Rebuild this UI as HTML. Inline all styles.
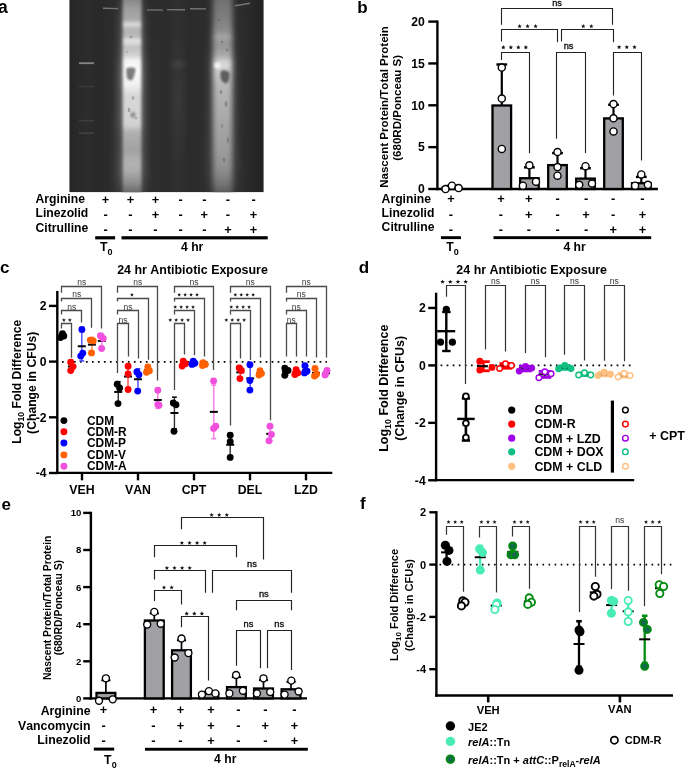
<!DOCTYPE html>
<html><head><meta charset="utf-8"><title>Figure</title>
<style>
html,body{margin:0;padding:0;background:#fff;}
body{width:685px;height:769px;overflow:hidden;}
svg{display:block;will-change:transform;font-family:"Liberation Sans", sans-serif;font-kerning:none;}
</style></head><body>
<svg width="685" height="769" viewBox="0 0 685 769">
<defs>
<clipPath id="gelclip"><rect x="69.4" y="0" width="194.2" height="192.2"/></clipPath>
<filter id="blur05" x="-20%" y="-200%" width="140%" height="500%"><feGaussianBlur stdDeviation="0.5"/></filter>
<filter id="blur08" x="-50%" y="-50%" width="200%" height="200%"><feGaussianBlur stdDeviation="0.8"/></filter>
<filter id="blur1" x="-50%" y="-50%" width="200%" height="200%"><feGaussianBlur stdDeviation="1"/></filter>
<filter id="blur2" x="-50%" y="-10%" width="200%" height="120%"><feGaussianBlur stdDeviation="1.8"/></filter>
<filter id="blur5" x="-100%" y="-20%" width="300%" height="140%"><feGaussianBlur stdDeviation="5"/></filter>
<filter id="blur4" x="-100%" y="-50%" width="300%" height="200%"><feGaussianBlur stdDeviation="4"/></filter>
<filter id="blur25" x="-50%" y="-10%" width="200%" height="120%"><feGaussianBlur stdDeviation="2.4"/></filter>
<filter id="blur3" x="-50%" y="-50%" width="200%" height="200%"><feGaussianBlur stdDeviation="3"/></filter>
<linearGradient id="gelbg" gradientUnits="userSpaceOnUse" x1="69.4" y1="0" x2="263.6" y2="0"><stop offset="0.0000" stop-color="#2a2a2a"/><stop offset="0.0082" stop-color="#262626"/><stop offset="0.0340" stop-color="#292929"/><stop offset="0.0906" stop-color="#2c2c2c"/><stop offset="0.1473" stop-color="#292929"/><stop offset="0.2091" stop-color="#2c2c2c"/><stop offset="0.2606" stop-color="#2a2a2a"/><stop offset="0.3893" stop-color="#2a2a2a"/><stop offset="0.4459" stop-color="#2d2d2d"/><stop offset="0.4974" stop-color="#2b2b2b"/><stop offset="0.5592" stop-color="#303030"/><stop offset="0.6159" stop-color="#2b2b2b"/><stop offset="0.6674" stop-color="#2d2d2d"/><stop offset="0.7240" stop-color="#2a2a2a"/><stop offset="0.8527" stop-color="#2a2a2a"/><stop offset="0.8939" stop-color="#2c2c2c"/><stop offset="0.9403" stop-color="#282828"/><stop offset="1.0000" stop-color="#222222"/></linearGradient><radialGradient id="l4glow" cx="0.5" cy="0.5" r="0.5"><stop offset="0" stop-color="#3a3a3a" stop-opacity="0.9"/><stop offset="0.6" stop-color="#353535" stop-opacity="0.5"/><stop offset="1" stop-color="#303030" stop-opacity="0"/></radialGradient><radialGradient id="l4spot" cx="0.5" cy="0.5" r="0.5"><stop offset="0" stop-color="#454545" stop-opacity="0.9"/><stop offset="1" stop-color="#3a3a3a" stop-opacity="0"/></radialGradient>
<linearGradient id="lane2" x1="0" y1="0" x2="0" y2="1"><stop offset="0.0000" stop-color="#7a7a7a"/><stop offset="0.0200" stop-color="#888888"/><stop offset="0.0700" stop-color="#a0a0a0"/><stop offset="0.1200" stop-color="#a8a8a8"/><stop offset="0.1350" stop-color="#d0d0d0"/><stop offset="0.1450" stop-color="#e0e0e0"/><stop offset="0.1600" stop-color="#b4b4b4"/><stop offset="0.2050" stop-color="#b8b8b8"/><stop offset="0.2200" stop-color="#e4e4e4"/><stop offset="0.2350" stop-color="#dcdcdc"/><stop offset="0.2550" stop-color="#c0c0c0"/><stop offset="0.2950" stop-color="#cfcfcf"/><stop offset="0.3250" stop-color="#f6f6f6"/><stop offset="0.3800" stop-color="#fafafa"/><stop offset="0.4450" stop-color="#f0f0f0"/><stop offset="0.4950" stop-color="#d8d8d8"/><stop offset="0.6450" stop-color="#d2d2d2"/><stop offset="0.6800" stop-color="#b0b0b0"/><stop offset="0.7700" stop-color="#a2a2a2"/><stop offset="0.8350" stop-color="#b2b2b2"/><stop offset="0.8800" stop-color="#aaaaaa"/><stop offset="0.9400" stop-color="#8a8a8a"/><stop offset="0.9800" stop-color="#6a6a6a"/><stop offset="1.0000" stop-color="#5a5a5a"/></linearGradient>
<linearGradient id="lane6" x1="0" y1="0" x2="0" y2="1"><stop offset="0.0000" stop-color="#6a6a6a"/><stop offset="0.0200" stop-color="#707070"/><stop offset="0.1200" stop-color="#808080"/><stop offset="0.1850" stop-color="#8e8e8e"/><stop offset="0.2050" stop-color="#b2b2b2"/><stop offset="0.2250" stop-color="#929292"/><stop offset="0.2700" stop-color="#9c9c9c"/><stop offset="0.3100" stop-color="#b2b2b2"/><stop offset="0.3350" stop-color="#e2e2e2"/><stop offset="0.3600" stop-color="#d2d2d2"/><stop offset="0.4450" stop-color="#b8b8b8"/><stop offset="0.6200" stop-color="#a8a8a8"/><stop offset="0.7700" stop-color="#9c9c9c"/><stop offset="0.8700" stop-color="#8e8e8e"/><stop offset="0.9400" stop-color="#747474"/><stop offset="0.9800" stop-color="#5c5c5c"/><stop offset="1.0000" stop-color="#555555"/></linearGradient>
</defs>
<text x="-2" y="13.4" font-size="17.5" text-anchor="start" font-weight="bold" fill="#000">a</text>
<g clip-path="url(#gelclip)">
<rect x="69.4" y="0" width="194.2" height="192.2" fill="#2a2a2a" stroke="none" stroke-width="0"/>
<rect x="69.4" y="0" width="194.2" height="192.2" fill="url(#gelbg)" stroke="none" stroke-width="0"/>
<ellipse cx="178" cy="100" rx="12" ry="80" fill="url(#l4glow)"/>
<ellipse cx="178" cy="64" rx="11" ry="7" fill="url(#l4spot)"/>
<path d="M121 -4 L143 -4 L146 196 L117 196 Z" fill="url(#lane2)" opacity="0.4" filter="url(#blur5)"/>
<path d="M212 -4 L233 -4 L237 196 L208 196 Z" fill="url(#lane6)" opacity="0.35" filter="url(#blur5)"/>
<rect x="122.8" y="-4" width="18.6" height="200" fill="url(#lane2)" stroke="none" stroke-width="0" filter="url(#blur2)"/>
<rect x="213.4" y="-4" width="18.6" height="200" fill="url(#lane6)" stroke="none" stroke-width="0" filter="url(#blur25)"/>
<path d="M126.5 68.5 C129 67 133 67.5 135.5 68.5 C135.5 72 134 76 132.5 80 C130 80.5 128 80 127 78 C126.5 75 126 71 126.5 68.5Z" fill="#7c7c7c" filter="url(#blur08)"/>
<ellipse cx="133" cy="115" rx="2.5" ry="3" fill="#939393" filter="url(#blur08)"/>
<ellipse cx="217.5" cy="65.5" rx="3" ry="3" fill="#f4f4f4" filter="url(#blur1)"/>
<path d="M221 71 C224 69.5 228 70.5 229.5 73 C230 77 229 81 227 83 C224.5 84 222 82 221 79 C220 76 220 73 221 71Z" fill="#5e5e5e" filter="url(#blur08)"/>
<ellipse cx="131" cy="37" rx="1.5" ry="1.2" fill="#999" filter="url(#blur05)"/>
<ellipse cx="127" cy="52" rx="1.2" ry="1" fill="#aaa" filter="url(#blur05)"/>
<ellipse cx="133" cy="98" rx="1.5" ry="2" fill="#aaa" filter="url(#blur05)"/>
<ellipse cx="129" cy="110" rx="1.3" ry="2.2" fill="#a0a0a0" filter="url(#blur05)"/>
<ellipse cx="136" cy="118" rx="1.2" ry="1.5" fill="#aaa" filter="url(#blur05)"/>
<ellipse cx="219" cy="20" rx="1.2" ry="1" fill="#666" filter="url(#blur05)"/>
<ellipse cx="222" cy="42" rx="1.3" ry="1" fill="#777" filter="url(#blur05)"/>
<ellipse cx="227" cy="50" rx="1" ry="1.2" fill="#7a7a7a" filter="url(#blur05)"/>
<ellipse cx="221" cy="92" rx="1.3" ry="2" fill="#8a8a8a" filter="url(#blur05)"/>
<ellipse cx="226" cy="104" rx="1.5" ry="3" fill="#8a8a8a" filter="url(#blur05)"/>
<ellipse cx="222" cy="126" rx="1.2" ry="2" fill="#8a8a8a" filter="url(#blur05)"/>
<ellipse cx="228" cy="140" rx="1.3" ry="3" fill="#808080" filter="url(#blur05)"/>
<ellipse cx="224" cy="160" rx="1.2" ry="2" fill="#777" filter="url(#blur05)"/>
<path d="M103 7.6000000000000005L118 7.8999999999999995L118 9.299999999999999L103 9.0Z" fill="#767676" filter="url(#blur05)"/>
<path d="M147 9.200000000000001L163 9.4L163 10.799999999999999L147 10.6Z" fill="#767676" filter="url(#blur05)"/>
<path d="M167 8.9L185 9.100000000000001L185 10.5L167 10.299999999999999Z" fill="#767676" filter="url(#blur05)"/>
<path d="M190 7.999999999999999L206 8.200000000000001L206 9.6L190 9.399999999999999Z" fill="#767676" filter="url(#blur05)"/>
<path d="M235 5.1L250 2.5999999999999996L250 4.0L235 6.5Z" fill="#767676" filter="url(#blur05)"/>
<rect x="79" y="62.3" width="15" height="1.8" fill="#858585" stroke="none" stroke-width="0" filter="url(#blur05)"/>
<rect x="79" y="85.8" width="15" height="1.4" fill="#3a3a3a" stroke="none" stroke-width="0" filter="url(#blur05)"/>
<rect x="79" y="119.8" width="15" height="1.6" fill="#3c3c3c" stroke="none" stroke-width="0" filter="url(#blur05)"/>
<rect x="79" y="132.3" width="15" height="1.8" fill="#404040" stroke="none" stroke-width="0" filter="url(#blur05)"/>
</g>
<text x="35.5" y="203.3" font-size="12.2" text-anchor="start" font-weight="bold" fill="#000">Arginine</text>
<text x="35.5" y="217.3" font-size="12.2" text-anchor="start" font-weight="bold" fill="#000">Linezolid</text>
<text x="35.5" y="231.7" font-size="12.2" text-anchor="start" font-weight="bold" fill="#000">Citrulline</text>
<text x="105.6" y="203.7" font-size="12.8" text-anchor="middle" font-weight="bold" fill="#000">+</text>
<text x="130.5" y="203.7" font-size="12.8" text-anchor="middle" font-weight="bold" fill="#000">+</text>
<text x="155.4" y="203.7" font-size="12.8" text-anchor="middle" font-weight="bold" fill="#000">+</text>
<text x="180.6" y="203.7" font-size="12.8" text-anchor="middle" font-weight="bold" fill="#000">-</text>
<text x="204.3" y="203.7" font-size="12.8" text-anchor="middle" font-weight="bold" fill="#000">-</text>
<text x="228" y="203.7" font-size="12.8" text-anchor="middle" font-weight="bold" fill="#000">-</text>
<text x="253.6" y="203.7" font-size="12.8" text-anchor="middle" font-weight="bold" fill="#000">-</text>
<text x="105.6" y="218.6" font-size="12.8" text-anchor="middle" font-weight="bold" fill="#000">-</text>
<text x="130.5" y="218.6" font-size="12.8" text-anchor="middle" font-weight="bold" fill="#000">-</text>
<text x="155.4" y="218.6" font-size="12.8" text-anchor="middle" font-weight="bold" fill="#000">+</text>
<text x="180.6" y="218.6" font-size="12.8" text-anchor="middle" font-weight="bold" fill="#000">-</text>
<text x="204.3" y="218.6" font-size="12.8" text-anchor="middle" font-weight="bold" fill="#000">+</text>
<text x="228" y="218.6" font-size="12.8" text-anchor="middle" font-weight="bold" fill="#000">-</text>
<text x="253.6" y="218.6" font-size="12.8" text-anchor="middle" font-weight="bold" fill="#000">+</text>
<text x="105.6" y="234.1" font-size="12.8" text-anchor="middle" font-weight="bold" fill="#000">-</text>
<text x="130.5" y="234.1" font-size="12.8" text-anchor="middle" font-weight="bold" fill="#000">-</text>
<text x="155.4" y="234.1" font-size="12.8" text-anchor="middle" font-weight="bold" fill="#000">-</text>
<text x="180.6" y="234.1" font-size="12.8" text-anchor="middle" font-weight="bold" fill="#000">-</text>
<text x="204.3" y="234.1" font-size="12.8" text-anchor="middle" font-weight="bold" fill="#000">-</text>
<text x="228" y="234.1" font-size="12.8" text-anchor="middle" font-weight="bold" fill="#000">+</text>
<text x="253.6" y="234.1" font-size="12.8" text-anchor="middle" font-weight="bold" fill="#000">+</text>
<rect x="95.2" y="236.2" width="19.9" height="3.2" fill="#000" stroke="none" stroke-width="0"/>
<rect x="121.5" y="236.2" width="146.2" height="3.2" fill="#000" stroke="none" stroke-width="0"/>
<text x="100" y="251" font-size="12.2" text-anchor="start" font-weight="bold" fill="#000">T</text>
<text x="107.5" y="255" font-size="9" text-anchor="start" font-weight="bold" fill="#000">0</text>
<text x="192.2" y="251.2" font-size="12.2" text-anchor="middle" font-weight="bold" fill="#000">4 hr</text>
<text x="357.3" y="13.4" font-size="17" text-anchor="start" font-weight="bold" fill="#000">b</text>
<line x1="437.4" y1="20.5" x2="437.4" y2="190.2" stroke="#000" stroke-width="2.4"/>
<line x1="436.2" y1="189" x2="657.9" y2="189" stroke="#000" stroke-width="2.4"/>
<line x1="428.3" y1="189" x2="437.4" y2="189" stroke="#000" stroke-width="2.4"/>
<text x="424.8" y="193.3" font-size="12.2" text-anchor="end" font-weight="bold" fill="#000">0</text>
<line x1="428.3" y1="147.15" x2="437.4" y2="147.15" stroke="#000" stroke-width="2.4"/>
<text x="424.8" y="151.45" font-size="12.2" text-anchor="end" font-weight="bold" fill="#000">5</text>
<line x1="428.3" y1="105.3" x2="437.4" y2="105.3" stroke="#000" stroke-width="2.4"/>
<text x="424.8" y="109.6" font-size="12.2" text-anchor="end" font-weight="bold" fill="#000">10</text>
<line x1="428.3" y1="63.45" x2="437.4" y2="63.45" stroke="#000" stroke-width="2.4"/>
<text x="424.8" y="67.75" font-size="12.2" text-anchor="end" font-weight="bold" fill="#000">15</text>
<line x1="428.3" y1="21.6" x2="437.4" y2="21.6" stroke="#000" stroke-width="2.4"/>
<text x="424.8" y="25.9" font-size="12.2" text-anchor="end" font-weight="bold" fill="#000">20</text>
<text transform="translate(388.4,107) rotate(-90)" font-size="11.55" font-weight="bold" text-anchor="middle">Nascent Protein/Total Protein</text>
<text transform="translate(401.2,107.8) rotate(-90)" font-size="11.55" font-weight="bold" text-anchor="middle">(680RD/Ponceau S)</text>
<line x1="452" y1="187.6" x2="452" y2="185.85" stroke="#000" stroke-width="2.2"/>
<line x1="446.6" y1="185.85" x2="457.4" y2="185.85" stroke="#000" stroke-width="2.4"/>
<line x1="501.8" y1="105.5" x2="501.8" y2="64.47" stroke="#000" stroke-width="2.2"/>
<line x1="496.4" y1="64.47" x2="507.2" y2="64.47" stroke="#000" stroke-width="2.4"/>
<line x1="529.4" y1="178.2" x2="529.4" y2="167.39" stroke="#000" stroke-width="2.2"/>
<line x1="524" y1="167.39" x2="534.8" y2="167.39" stroke="#000" stroke-width="2.4"/>
<line x1="557.5" y1="165.1" x2="557.5" y2="153.1" stroke="#000" stroke-width="2.2"/>
<line x1="552.1" y1="153.1" x2="562.9" y2="153.1" stroke="#000" stroke-width="2.4"/>
<line x1="585.5" y1="178.6" x2="585.5" y2="168.22" stroke="#000" stroke-width="2.2"/>
<line x1="580.1" y1="168.22" x2="590.9" y2="168.22" stroke="#000" stroke-width="2.4"/>
<line x1="613.5" y1="118.4" x2="613.5" y2="104.75" stroke="#000" stroke-width="2.2"/>
<line x1="608.1" y1="104.75" x2="618.9" y2="104.75" stroke="#000" stroke-width="2.4"/>
<line x1="641.3" y1="183.2" x2="641.3" y2="176.92" stroke="#000" stroke-width="2.2"/>
<line x1="635.9" y1="176.92" x2="646.7" y2="176.92" stroke="#000" stroke-width="2.4"/>
<rect x="442.7" y="187.6" width="18.6" height="1.4" fill="#a1a0a5" stroke="#000" stroke-width="2.3"/>
<rect x="492.5" y="105.5" width="18.6" height="83.5" fill="#a1a0a5" stroke="#000" stroke-width="2.3"/>
<rect x="520.1" y="178.2" width="18.6" height="10.8" fill="#a1a0a5" stroke="#000" stroke-width="2.3"/>
<rect x="548.2" y="165.1" width="18.6" height="23.9" fill="#a1a0a5" stroke="#000" stroke-width="2.3"/>
<rect x="576.2" y="178.6" width="18.6" height="10.4" fill="#a1a0a5" stroke="#000" stroke-width="2.3"/>
<rect x="604.2" y="118.4" width="18.6" height="70.6" fill="#a1a0a5" stroke="#000" stroke-width="2.3"/>
<rect x="632" y="183.2" width="18.6" height="5.8" fill="#a1a0a5" stroke="#000" stroke-width="2.3"/>
<circle cx="445.5" cy="189.1" r="3.55" fill="#fff" stroke="#000" stroke-width="1.4"/>
<circle cx="451.9" cy="185.7" r="3.55" fill="#fff" stroke="#000" stroke-width="1.4"/>
<circle cx="458.6" cy="188.1" r="3.55" fill="#fff" stroke="#000" stroke-width="1.4"/>
<circle cx="501.8" cy="67.6" r="3.55" fill="#fff" stroke="#000" stroke-width="1.4"/>
<circle cx="501.8" cy="98.6" r="3.55" fill="#fff" stroke="#000" stroke-width="1.4"/>
<circle cx="501.8" cy="148.9" r="3.55" fill="#fff" stroke="#000" stroke-width="1.4"/>
<circle cx="529.4" cy="165.3" r="3.55" fill="#fff" stroke="#000" stroke-width="1.4"/>
<circle cx="522.9" cy="185.7" r="3.55" fill="#fff" stroke="#000" stroke-width="1.4"/>
<circle cx="536" cy="181.7" r="3.55" fill="#fff" stroke="#000" stroke-width="1.4"/>
<circle cx="557.5" cy="152" r="3.55" fill="#fff" stroke="#000" stroke-width="1.4"/>
<circle cx="557.5" cy="167.1" r="3.55" fill="#fff" stroke="#000" stroke-width="1.4"/>
<circle cx="557.5" cy="175.7" r="3.55" fill="#fff" stroke="#000" stroke-width="1.4"/>
<circle cx="585.5" cy="166.2" r="3.55" fill="#fff" stroke="#000" stroke-width="1.4"/>
<circle cx="579.2" cy="184.8" r="3.55" fill="#fff" stroke="#000" stroke-width="1.4"/>
<circle cx="592" cy="183.5" r="3.55" fill="#fff" stroke="#000" stroke-width="1.4"/>
<circle cx="613.5" cy="104.1" r="3.55" fill="#fff" stroke="#000" stroke-width="1.4"/>
<circle cx="613.5" cy="118.3" r="3.55" fill="#fff" stroke="#000" stroke-width="1.4"/>
<circle cx="613.5" cy="131.4" r="3.55" fill="#fff" stroke="#000" stroke-width="1.4"/>
<circle cx="641.3" cy="174.4" r="3.55" fill="#fff" stroke="#000" stroke-width="1.4"/>
<circle cx="635.1" cy="185.7" r="3.55" fill="#fff" stroke="#000" stroke-width="1.4"/>
<circle cx="647.9" cy="184.8" r="3.55" fill="#fff" stroke="#000" stroke-width="1.4"/>
<path d="M501.5 24.8V8.5H612.5V24.8" fill="none" stroke="#222" stroke-width="1.1" stroke-linejoin="miter" stroke-linecap="butt"/>
<text x="557" y="6.3" font-size="9.2" text-anchor="middle" font-weight="normal" fill="#111" stroke="#111" stroke-width="0.35">ns</text>
<path d="M501.5 41.6V29.5H557.5V42.3" fill="none" stroke="#222" stroke-width="1.1" stroke-linejoin="miter" stroke-linecap="butt"/>
<polygon points="519.6,24 520.21,25.46 521.79,25.59 520.58,26.62 520.95,28.16 519.6,27.34 518.25,28.16 518.62,26.62 517.41,25.59 518.99,25.46" fill="#111"/>
<polygon points="527.6,24 528.21,25.46 529.79,25.59 528.58,26.62 528.95,28.16 527.6,27.34 526.25,28.16 526.62,26.62 525.41,25.59 526.99,25.46" fill="#111"/>
<polygon points="535.6,24 536.21,25.46 537.79,25.59 536.58,26.62 536.95,28.16 535.6,27.34 534.25,28.16 534.62,26.62 533.41,25.59 534.99,25.46" fill="#111"/>
<path d="M561.5 41.6V29.5H613.5V42.3" fill="none" stroke="#222" stroke-width="1.1" stroke-linejoin="miter" stroke-linecap="butt"/>
<polygon points="583.3,24 583.91,25.46 585.49,25.59 584.28,26.62 584.65,28.16 583.3,27.34 581.95,28.16 582.32,26.62 581.11,25.59 582.69,25.46" fill="#111"/>
<polygon points="591.3,24 591.91,25.46 593.49,25.59 592.28,26.62 592.65,28.16 591.3,27.34 589.95,28.16 590.32,26.62 589.11,25.59 590.69,25.46" fill="#111"/>
<path d="M501.5 59.9V52.5H529.5V153.3" fill="none" stroke="#222" stroke-width="1.1" stroke-linejoin="miter" stroke-linecap="butt"/>
<polygon points="503.35,45.1 503.96,46.56 505.54,46.69 504.33,47.72 504.7,49.26 503.35,48.43 502,49.26 502.37,47.72 501.16,46.69 502.74,46.56" fill="#111"/>
<polygon points="510.85,45.1 511.46,46.56 513.04,46.69 511.83,47.72 512.2,49.26 510.85,48.43 509.5,49.26 509.87,47.72 508.66,46.69 510.24,46.56" fill="#111"/>
<polygon points="518.35,45.1 518.96,46.56 520.54,46.69 519.33,47.72 519.7,49.26 518.35,48.43 517,49.26 517.37,47.72 516.16,46.69 517.74,46.56" fill="#111"/>
<polygon points="525.85,45.1 526.46,46.56 528.04,46.69 526.83,47.72 527.2,49.26 525.85,48.43 524.5,49.26 524.87,47.72 523.66,46.69 525.24,46.56" fill="#111"/>
<path d="M556.5 138.7V52.5H585.5V152.9" fill="none" stroke="#222" stroke-width="1.1" stroke-linejoin="miter" stroke-linecap="butt"/>
<text x="568.6" y="49" font-size="9.2" text-anchor="middle" font-weight="normal" fill="#111" stroke="#111" stroke-width="0.35">ns</text>
<path d="M613.5 95.5V52.5H641.5V160.5" fill="none" stroke="#222" stroke-width="1.1" stroke-linejoin="miter" stroke-linecap="butt"/>
<polygon points="619.1,44.9 619.71,46.36 621.29,46.49 620.08,47.52 620.45,49.06 619.1,48.23 617.75,49.06 618.12,47.52 616.91,46.49 618.49,46.36" fill="#111"/>
<polygon points="626.8,44.9 627.41,46.36 628.99,46.49 627.78,47.52 628.15,49.06 626.8,48.23 625.45,49.06 625.82,47.52 624.61,46.49 626.19,46.36" fill="#111"/>
<polygon points="634.5,44.9 635.11,46.36 636.69,46.49 635.48,47.52 635.85,49.06 634.5,48.23 633.15,49.06 633.52,47.52 632.31,46.49 633.89,46.36" fill="#111"/>
<text x="381.6" y="202.8" font-size="12.2" text-anchor="start" font-weight="bold" fill="#000">Arginine</text>
<text x="381.6" y="216.9" font-size="12.2" text-anchor="start" font-weight="bold" fill="#000">Linezolid</text>
<text x="381.6" y="231.3" font-size="12.2" text-anchor="start" font-weight="bold" fill="#000">Citrulline</text>
<text x="451" y="203.3" font-size="12.8" text-anchor="middle" font-weight="bold" fill="#000">+</text>
<text x="501" y="203.3" font-size="12.8" text-anchor="middle" font-weight="bold" fill="#000">+</text>
<text x="528.8" y="203.3" font-size="12.8" text-anchor="middle" font-weight="bold" fill="#000">+</text>
<text x="557.7" y="203.3" font-size="12.8" text-anchor="middle" font-weight="bold" fill="#000">-</text>
<text x="586.1" y="203.3" font-size="12.8" text-anchor="middle" font-weight="bold" fill="#000">-</text>
<text x="613.2" y="203.3" font-size="12.8" text-anchor="middle" font-weight="bold" fill="#000">-</text>
<text x="642.4" y="203.3" font-size="12.8" text-anchor="middle" font-weight="bold" fill="#000">-</text>
<text x="451" y="218.8" font-size="12.8" text-anchor="middle" font-weight="bold" fill="#000">-</text>
<text x="501" y="218.8" font-size="12.8" text-anchor="middle" font-weight="bold" fill="#000">-</text>
<text x="528.8" y="218.8" font-size="12.8" text-anchor="middle" font-weight="bold" fill="#000">+</text>
<text x="557.7" y="218.8" font-size="12.8" text-anchor="middle" font-weight="bold" fill="#000">-</text>
<text x="586.1" y="218.8" font-size="12.8" text-anchor="middle" font-weight="bold" fill="#000">+</text>
<text x="613.2" y="218.8" font-size="12.8" text-anchor="middle" font-weight="bold" fill="#000">-</text>
<text x="642.4" y="218.8" font-size="12.8" text-anchor="middle" font-weight="bold" fill="#000">+</text>
<text x="451" y="233.7" font-size="12.8" text-anchor="middle" font-weight="bold" fill="#000">-</text>
<text x="501" y="233.7" font-size="12.8" text-anchor="middle" font-weight="bold" fill="#000">-</text>
<text x="528.8" y="233.7" font-size="12.8" text-anchor="middle" font-weight="bold" fill="#000">-</text>
<text x="557.7" y="233.7" font-size="12.8" text-anchor="middle" font-weight="bold" fill="#000">-</text>
<text x="586.1" y="233.7" font-size="12.8" text-anchor="middle" font-weight="bold" fill="#000">-</text>
<text x="613.2" y="233.7" font-size="12.8" text-anchor="middle" font-weight="bold" fill="#000">+</text>
<text x="642.4" y="233.7" font-size="12.8" text-anchor="middle" font-weight="bold" fill="#000">+</text>
<rect x="441" y="236.2" width="20" height="2.9" fill="#000" stroke="none" stroke-width="0"/>
<rect x="493.5" y="236.2" width="157.7" height="2.9" fill="#000" stroke="none" stroke-width="0"/>
<text x="446.2" y="251" font-size="12.2" text-anchor="start" font-weight="bold" fill="#000">T</text>
<text x="453.7" y="255" font-size="9" text-anchor="start" font-weight="bold" fill="#000">0</text>
<text x="574.6" y="250.5" font-size="12.2" text-anchor="middle" font-weight="bold" fill="#000">4 hr</text>
<text x="0" y="272.5" font-size="17" text-anchor="start" font-weight="bold" fill="#000">c</text>
<line x1="57.3" y1="290.9" x2="57.3" y2="474.1" stroke="#000" stroke-width="2.4"/>
<line x1="56.1" y1="472.9" x2="332.3" y2="472.9" stroke="#000" stroke-width="2.4"/>
<line x1="49" y1="305.9" x2="57.3" y2="305.9" stroke="#000" stroke-width="2.4"/>
<text x="46.6" y="310.2" font-size="12.2" text-anchor="end" font-weight="bold" fill="#000">2</text>
<line x1="49" y1="361.6" x2="57.3" y2="361.6" stroke="#000" stroke-width="2.4"/>
<text x="46.6" y="365.9" font-size="12.2" text-anchor="end" font-weight="bold" fill="#000">0</text>
<line x1="49" y1="417.3" x2="57.3" y2="417.3" stroke="#000" stroke-width="2.4"/>
<text x="46.6" y="421.6" font-size="12.2" text-anchor="end" font-weight="bold" fill="#000">-2</text>
<line x1="49" y1="473" x2="57.3" y2="473" stroke="#000" stroke-width="2.4"/>
<text x="46.6" y="477.3" font-size="12.2" text-anchor="end" font-weight="bold" fill="#000">-4</text>
<text transform="translate(20.9,443.8) rotate(-90)" font-size="12.2" font-weight="bold">Log<tspan font-size="8.6" dy="3">10</tspan><tspan dy="-3"> Fold Difference</tspan></text>
<text transform="translate(36.2,382.8) rotate(-90)" font-size="12.2" font-weight="bold" text-anchor="middle">(Change in CFUs)</text>
<text x="192.5" y="274.3" font-size="12.45" text-anchor="middle" font-weight="bold" fill="#000">24 hr Antibiotic Exposure</text>
<line x1="62" y1="361.8" x2="327" y2="361.8" stroke="#000" stroke-width="1.7" stroke-dasharray="1.7 4.29"/>
<line x1="82" y1="472.9" x2="82" y2="480.3" stroke="#000" stroke-width="2.4"/>
<text x="82" y="494.3" font-size="12.3" text-anchor="middle" font-weight="bold" fill="#000">VEH</text>
<line x1="138" y1="472.9" x2="138" y2="480.3" stroke="#000" stroke-width="2.4"/>
<text x="138" y="494.3" font-size="12.3" text-anchor="middle" font-weight="bold" fill="#000">VAN</text>
<line x1="194" y1="472.9" x2="194" y2="480.3" stroke="#000" stroke-width="2.4"/>
<text x="194" y="494.3" font-size="12.3" text-anchor="middle" font-weight="bold" fill="#000">CPT</text>
<line x1="250" y1="472.9" x2="250" y2="480.3" stroke="#000" stroke-width="2.4"/>
<text x="250" y="494.3" font-size="12.3" text-anchor="middle" font-weight="bold" fill="#000">DEL</text>
<line x1="306" y1="472.9" x2="306" y2="480.3" stroke="#000" stroke-width="2.4"/>
<text x="306" y="494.3" font-size="12.3" text-anchor="middle" font-weight="bold" fill="#000">LZD</text>
<path d="M61.5 328.4V323.5H71.5V357.7" fill="none" stroke="#4a4a4a" stroke-width="1.3" stroke-linejoin="miter" stroke-linecap="butt"/>
<polygon points="63.87,318.1 64.4,319.37 65.78,319.48 64.73,320.38 65.05,321.72 63.87,321 62.7,321.72 63.02,320.38 61.97,319.48 63.35,319.37" fill="#222"/>
<polygon points="69.82,318.1 70.35,319.37 71.73,319.48 70.68,320.38 71,321.72 69.82,321 68.65,321.72 68.97,320.38 67.92,319.48 69.3,319.37" fill="#222"/>
<path d="M61.5 314.6V310.5H81.5V322.4" fill="none" stroke="#4a4a4a" stroke-width="1.3" stroke-linejoin="miter" stroke-linecap="butt"/>
<text x="71.8" y="309.5" font-size="8.5" text-anchor="middle" font-weight="normal" fill="#3a3a3a">ns</text>
<path d="M61.5 301.6V298.5H91.5V327.7" fill="none" stroke="#4a4a4a" stroke-width="1.3" stroke-linejoin="miter" stroke-linecap="butt"/>
<text x="76.85" y="297.2" font-size="8.5" text-anchor="middle" font-weight="normal" fill="#3a3a3a">ns</text>
<path d="M61.5 292.7V286.5H101.5V328.6" fill="none" stroke="#4a4a4a" stroke-width="1.3" stroke-linejoin="miter" stroke-linecap="butt"/>
<text x="81.85" y="285" font-size="8.5" text-anchor="middle" font-weight="normal" fill="#3a3a3a">ns</text>
<path d="M117.5 373V323.5H128.5V356.6" fill="none" stroke="#4a4a4a" stroke-width="1.3" stroke-linejoin="miter" stroke-linecap="butt"/>
<text x="122.95" y="322.5" font-size="8.5" text-anchor="middle" font-weight="normal" fill="#3a3a3a">ns</text>
<path d="M117.5 314.6V310.5H138.5V358.4" fill="none" stroke="#4a4a4a" stroke-width="1.3" stroke-linejoin="miter" stroke-linecap="butt"/>
<text x="127.95" y="309.5" font-size="8.5" text-anchor="middle" font-weight="normal" fill="#3a3a3a">ns</text>
<path d="M117.5 301.6V298.5H148.5V359.8" fill="none" stroke="#4a4a4a" stroke-width="1.3" stroke-linejoin="miter" stroke-linecap="butt"/>
<polygon points="131.95,292.8 132.48,294.07 133.85,294.18 132.81,295.08 133.13,296.42 131.95,295.7 130.77,296.42 131.09,295.08 130.05,294.18 131.42,294.07" fill="#222"/>
<path d="M117.5 292.7V286.5H157.5V380.6" fill="none" stroke="#4a4a4a" stroke-width="1.3" stroke-linejoin="miter" stroke-linecap="butt"/>
<text x="137.85" y="285" font-size="8.5" text-anchor="middle" font-weight="normal" fill="#3a3a3a">ns</text>
<path d="M174.5 390.1V323.5H184.5V354.5" fill="none" stroke="#4a4a4a" stroke-width="1.3" stroke-linejoin="miter" stroke-linecap="butt"/>
<polygon points="170.22,318.1 170.75,319.37 172.13,319.48 171.08,320.38 171.4,321.72 170.22,321 169.05,321.72 169.37,320.38 168.32,319.48 169.7,319.37" fill="#222"/>
<polygon points="176.17,318.1 176.7,319.37 178.08,319.48 177.03,320.38 177.35,321.72 176.17,321 175,321.72 175.32,320.38 174.27,319.48 175.65,319.37" fill="#222"/>
<polygon points="182.12,318.1 182.65,319.37 184.03,319.48 182.98,320.38 183.3,321.72 182.12,321 180.95,321.72 181.27,320.38 180.22,319.48 181.6,319.37" fill="#222"/>
<polygon points="188.07,318.1 188.6,319.37 189.98,319.48 188.93,320.38 189.25,321.72 188.07,321 186.9,321.72 187.22,320.38 186.17,319.48 187.55,319.37" fill="#222"/>
<path d="M174.5 314.6V310.5H194.5V355.2" fill="none" stroke="#4a4a4a" stroke-width="1.3" stroke-linejoin="miter" stroke-linecap="butt"/>
<polygon points="175.17,305.1 175.7,306.37 177.08,306.48 176.03,307.38 176.35,308.72 175.17,308 174,308.72 174.32,307.38 173.27,306.48 174.65,306.37" fill="#222"/>
<polygon points="181.12,305.1 181.65,306.37 183.03,306.48 181.98,307.38 182.3,308.72 181.12,308 179.95,308.72 180.27,307.38 179.22,306.48 180.6,306.37" fill="#222"/>
<polygon points="187.07,305.1 187.6,306.37 188.98,306.48 187.93,307.38 188.25,308.72 187.07,308 185.9,308.72 186.22,307.38 185.17,306.48 186.55,306.37" fill="#222"/>
<polygon points="193.02,305.1 193.55,306.37 194.93,306.48 193.88,307.38 194.2,308.72 193.02,308 191.85,308.72 192.17,307.38 191.12,306.48 192.5,306.37" fill="#222"/>
<path d="M174.5 301.6V298.5H204.5V356.6" fill="none" stroke="#4a4a4a" stroke-width="1.3" stroke-linejoin="miter" stroke-linecap="butt"/>
<polygon points="179.17,292.8 179.7,294.07 181.08,294.18 180.03,295.08 180.35,296.42 179.17,295.7 178,296.42 178.32,295.08 177.27,294.18 178.65,294.07" fill="#222"/>
<polygon points="185.12,292.8 185.65,294.07 187.03,294.18 185.98,295.08 186.3,296.42 185.12,295.7 183.95,296.42 184.27,295.08 183.22,294.18 184.6,294.07" fill="#222"/>
<polygon points="191.07,292.8 191.6,294.07 192.98,294.18 191.93,295.08 192.25,296.42 191.07,295.7 189.9,296.42 190.22,295.08 189.17,294.18 190.55,294.07" fill="#222"/>
<polygon points="197.02,292.8 197.55,294.07 198.93,294.18 197.88,295.08 198.2,296.42 197.02,295.7 195.85,296.42 196.17,295.08 195.12,294.18 196.5,294.07" fill="#222"/>
<path d="M174.5 292.7V286.5H213.5V369.9" fill="none" stroke="#4a4a4a" stroke-width="1.3" stroke-linejoin="miter" stroke-linecap="butt"/>
<text x="193.9" y="285" font-size="8.5" text-anchor="middle" font-weight="normal" fill="#3a3a3a">ns</text>
<path d="M230.5 425.5V323.5H240.5V358.4" fill="none" stroke="#4a4a4a" stroke-width="1.3" stroke-linejoin="miter" stroke-linecap="butt"/>
<polygon points="226.27,318.1 226.8,319.37 228.18,319.48 227.13,320.38 227.45,321.72 226.27,321 225.1,321.72 225.42,320.38 224.37,319.48 225.75,319.37" fill="#222"/>
<polygon points="232.22,318.1 232.75,319.37 234.13,319.48 233.08,320.38 233.4,321.72 232.22,321 231.05,321.72 231.37,320.38 230.32,319.48 231.7,319.37" fill="#222"/>
<polygon points="238.17,318.1 238.7,319.37 240.08,319.48 239.03,320.38 239.35,321.72 238.17,321 237,321.72 237.32,320.38 236.27,319.48 237.65,319.37" fill="#222"/>
<polygon points="244.12,318.1 244.65,319.37 246.03,319.48 244.98,320.38 245.3,321.72 244.12,321 242.95,321.72 243.27,320.38 242.22,319.48 243.6,319.37" fill="#222"/>
<path d="M230.5 314.6V310.5H250.5V360" fill="none" stroke="#4a4a4a" stroke-width="1.3" stroke-linejoin="miter" stroke-linecap="butt"/>
<polygon points="231.22,305.1 231.75,306.37 233.13,306.48 232.08,307.38 232.4,308.72 231.22,308 230.05,308.72 230.37,307.38 229.32,306.48 230.7,306.37" fill="#222"/>
<polygon points="237.17,305.1 237.7,306.37 239.08,306.48 238.03,307.38 238.35,308.72 237.17,308 236,308.72 236.32,307.38 235.27,306.48 236.65,306.37" fill="#222"/>
<polygon points="243.12,305.1 243.65,306.37 245.03,306.48 243.98,307.38 244.3,308.72 243.12,308 241.95,308.72 242.27,307.38 241.22,306.48 242.6,306.37" fill="#222"/>
<polygon points="249.07,305.1 249.6,306.37 250.98,306.48 249.93,307.38 250.25,308.72 249.07,308 247.9,308.72 248.22,307.38 247.17,306.48 248.55,306.37" fill="#222"/>
<path d="M230.5 301.6V298.5H260.5V357.5" fill="none" stroke="#4a4a4a" stroke-width="1.3" stroke-linejoin="miter" stroke-linecap="butt"/>
<polygon points="235.27,292.8 235.8,294.07 237.18,294.18 236.13,295.08 236.45,296.42 235.27,295.7 234.1,296.42 234.42,295.08 233.37,294.18 234.75,294.07" fill="#222"/>
<polygon points="241.22,292.8 241.75,294.07 243.13,294.18 242.08,295.08 242.4,296.42 241.22,295.7 240.05,296.42 240.37,295.08 239.32,294.18 240.7,294.07" fill="#222"/>
<polygon points="247.17,292.8 247.7,294.07 249.08,294.18 248.03,295.08 248.35,296.42 247.17,295.7 246,296.42 246.32,295.08 245.27,294.18 246.65,294.07" fill="#222"/>
<polygon points="253.12,292.8 253.65,294.07 255.03,294.18 253.98,295.08 254.3,296.42 253.12,295.7 251.95,296.42 252.27,295.08 251.22,294.18 252.6,294.07" fill="#222"/>
<path d="M230.5 292.7V286.5H270.5V420.2" fill="none" stroke="#4a4a4a" stroke-width="1.3" stroke-linejoin="miter" stroke-linecap="butt"/>
<text x="250.15" y="285" font-size="8.5" text-anchor="middle" font-weight="normal" fill="#3a3a3a">ns</text>
<path d="M286.5 356.4V323.5H296.5V356.4" fill="none" stroke="#4a4a4a" stroke-width="1.3" stroke-linejoin="miter" stroke-linecap="butt"/>
<text x="291.3" y="322.5" font-size="8.5" text-anchor="middle" font-weight="normal" fill="#3a3a3a">ns</text>
<path d="M286.5 314.6V310.5H306.5V356.4" fill="none" stroke="#4a4a4a" stroke-width="1.3" stroke-linejoin="miter" stroke-linecap="butt"/>
<text x="296.2" y="309.5" font-size="8.5" text-anchor="middle" font-weight="normal" fill="#3a3a3a">ns</text>
<path d="M286.5 301.6V298.5H316.5V357.6" fill="none" stroke="#4a4a4a" stroke-width="1.3" stroke-linejoin="miter" stroke-linecap="butt"/>
<text x="301.15" y="297.2" font-size="8.5" text-anchor="middle" font-weight="normal" fill="#3a3a3a">ns</text>
<path d="M286.5 292.7V286.5H326.5V357.6" fill="none" stroke="#4a4a4a" stroke-width="1.3" stroke-linejoin="miter" stroke-linecap="butt"/>
<text x="306.15" y="285" font-size="8.5" text-anchor="middle" font-weight="normal" fill="#3a3a3a">ns</text>
<line x1="62.27" y1="333.91" x2="62.27" y2="337.63" stroke="#333" stroke-width="1.4"/>
<line x1="59.87" y1="333.91" x2="64.67" y2="333.91" stroke="#111" stroke-width="1.6"/>
<line x1="59.87" y1="337.63" x2="64.67" y2="337.63" stroke="#111" stroke-width="1.6"/>
<line x1="58.27" y1="335.77" x2="66.27" y2="335.77" stroke="#000" stroke-width="2"/>
<line x1="71.9" y1="362.27" x2="71.9" y2="370.67" stroke="#ff4a4a" stroke-width="1.4"/>
<line x1="69.5" y1="362.27" x2="74.3" y2="362.27" stroke="#ff4a4a" stroke-width="1.6"/>
<line x1="69.5" y1="370.67" x2="74.3" y2="370.67" stroke="#ff4a4a" stroke-width="1.6"/>
<line x1="67.9" y1="366.47" x2="75.9" y2="366.47" stroke="#000" stroke-width="2"/>
<line x1="81.8" y1="331.59" x2="81.8" y2="360.94" stroke="#4a4aff" stroke-width="1.4"/>
<line x1="79.4" y1="331.59" x2="84.2" y2="331.59" stroke="#4a4aff" stroke-width="1.6"/>
<line x1="79.4" y1="360.94" x2="84.2" y2="360.94" stroke="#4a4aff" stroke-width="1.6"/>
<line x1="77.8" y1="346.27" x2="85.8" y2="346.27" stroke="#000" stroke-width="2"/>
<line x1="91.9" y1="337.46" x2="91.9" y2="351.8" stroke="#ff8040" stroke-width="1.4"/>
<line x1="89.5" y1="337.46" x2="94.3" y2="337.46" stroke="#ff8040" stroke-width="1.6"/>
<line x1="89.5" y1="351.8" x2="94.3" y2="351.8" stroke="#ff8040" stroke-width="1.6"/>
<line x1="87.9" y1="344.63" x2="95.9" y2="344.63" stroke="#000" stroke-width="2"/>
<line x1="101.9" y1="334.17" x2="101.9" y2="347.63" stroke="#f77ae6" stroke-width="1.4"/>
<line x1="99.5" y1="334.17" x2="104.3" y2="334.17" stroke="#f77ae6" stroke-width="1.6"/>
<line x1="99.5" y1="347.63" x2="104.3" y2="347.63" stroke="#f77ae6" stroke-width="1.6"/>
<line x1="97.9" y1="340.9" x2="105.9" y2="340.9" stroke="#000" stroke-width="2"/>
<line x1="118.27" y1="381.67" x2="118.27" y2="402.2" stroke="#333" stroke-width="1.4"/>
<line x1="115.87" y1="381.67" x2="120.67" y2="381.67" stroke="#111" stroke-width="1.6"/>
<line x1="115.87" y1="402.2" x2="120.67" y2="402.2" stroke="#111" stroke-width="1.6"/>
<line x1="114.27" y1="391.93" x2="122.27" y2="391.93" stroke="#000" stroke-width="2"/>
<line x1="128" y1="364.66" x2="128" y2="388.4" stroke="#ff4a4a" stroke-width="1.4"/>
<line x1="125.6" y1="364.66" x2="130.4" y2="364.66" stroke="#ff4a4a" stroke-width="1.6"/>
<line x1="125.6" y1="388.4" x2="130.4" y2="388.4" stroke="#ff4a4a" stroke-width="1.6"/>
<line x1="124" y1="376.53" x2="132" y2="376.53" stroke="#000" stroke-width="2"/>
<line x1="138" y1="368.86" x2="138" y2="389.61" stroke="#4a4aff" stroke-width="1.4"/>
<line x1="135.6" y1="368.86" x2="140.4" y2="368.86" stroke="#4a4aff" stroke-width="1.6"/>
<line x1="135.6" y1="389.61" x2="140.4" y2="389.61" stroke="#4a4aff" stroke-width="1.6"/>
<line x1="134" y1="379.23" x2="142" y2="379.23" stroke="#000" stroke-width="2"/>
<line x1="148" y1="367.28" x2="148" y2="372.72" stroke="#ff8040" stroke-width="1.4"/>
<line x1="145.6" y1="367.28" x2="150.4" y2="367.28" stroke="#ff8040" stroke-width="1.6"/>
<line x1="145.6" y1="372.72" x2="150.4" y2="372.72" stroke="#ff8040" stroke-width="1.6"/>
<line x1="144" y1="370" x2="152" y2="370" stroke="#000" stroke-width="2"/>
<line x1="157.8" y1="391.59" x2="157.8" y2="408.35" stroke="#f77ae6" stroke-width="1.4"/>
<line x1="155.4" y1="391.59" x2="160.2" y2="391.59" stroke="#f77ae6" stroke-width="1.6"/>
<line x1="155.4" y1="408.35" x2="160.2" y2="408.35" stroke="#f77ae6" stroke-width="1.6"/>
<line x1="153.8" y1="399.97" x2="161.8" y2="399.97" stroke="#000" stroke-width="2"/>
<line x1="174.43" y1="397.15" x2="174.43" y2="428.78" stroke="#333" stroke-width="1.4"/>
<line x1="172.03" y1="397.15" x2="176.83" y2="397.15" stroke="#111" stroke-width="1.6"/>
<line x1="172.03" y1="428.78" x2="176.83" y2="428.78" stroke="#111" stroke-width="1.6"/>
<line x1="170.43" y1="412.97" x2="178.43" y2="412.97" stroke="#000" stroke-width="2"/>
<line x1="184.3" y1="361.18" x2="184.3" y2="366.09" stroke="#ff4a4a" stroke-width="1.4"/>
<line x1="181.9" y1="361.18" x2="186.7" y2="361.18" stroke="#ff4a4a" stroke-width="1.6"/>
<line x1="181.9" y1="366.09" x2="186.7" y2="366.09" stroke="#ff4a4a" stroke-width="1.6"/>
<line x1="180.3" y1="363.63" x2="188.3" y2="363.63" stroke="#000" stroke-width="2"/>
<line x1="194.2" y1="361.25" x2="194.2" y2="364.61" stroke="#4a4aff" stroke-width="1.4"/>
<line x1="191.8" y1="361.25" x2="196.6" y2="361.25" stroke="#4a4aff" stroke-width="1.6"/>
<line x1="191.8" y1="364.61" x2="196.6" y2="364.61" stroke="#4a4aff" stroke-width="1.6"/>
<line x1="190.2" y1="362.93" x2="198.2" y2="362.93" stroke="#000" stroke-width="2"/>
<line x1="204.2" y1="362.79" x2="204.2" y2="365.61" stroke="#ff8040" stroke-width="1.4"/>
<line x1="201.8" y1="362.79" x2="206.6" y2="362.79" stroke="#ff8040" stroke-width="1.6"/>
<line x1="201.8" y1="365.61" x2="206.6" y2="365.61" stroke="#ff8040" stroke-width="1.6"/>
<line x1="200.2" y1="364.2" x2="208.2" y2="364.2" stroke="#000" stroke-width="2"/>
<line x1="213.8" y1="385.11" x2="213.8" y2="438.62" stroke="#f77ae6" stroke-width="1.4"/>
<line x1="211.4" y1="385.11" x2="216.2" y2="385.11" stroke="#f77ae6" stroke-width="1.6"/>
<line x1="211.4" y1="438.62" x2="216.2" y2="438.62" stroke="#f77ae6" stroke-width="1.6"/>
<line x1="209.8" y1="411.87" x2="217.8" y2="411.87" stroke="#000" stroke-width="2"/>
<line x1="230.2" y1="433.35" x2="230.2" y2="456.18" stroke="#333" stroke-width="1.4"/>
<line x1="227.8" y1="433.35" x2="232.6" y2="433.35" stroke="#111" stroke-width="1.6"/>
<line x1="227.8" y1="456.18" x2="232.6" y2="456.18" stroke="#111" stroke-width="1.6"/>
<line x1="226.2" y1="444.77" x2="234.2" y2="444.77" stroke="#000" stroke-width="2"/>
<line x1="240.3" y1="366.75" x2="240.3" y2="377.91" stroke="#ff4a4a" stroke-width="1.4"/>
<line x1="237.9" y1="366.75" x2="242.7" y2="366.75" stroke="#ff4a4a" stroke-width="1.6"/>
<line x1="237.9" y1="377.91" x2="242.7" y2="377.91" stroke="#ff4a4a" stroke-width="1.6"/>
<line x1="236.3" y1="372.33" x2="244.3" y2="372.33" stroke="#000" stroke-width="2"/>
<line x1="250.2" y1="365.61" x2="250.2" y2="391.26" stroke="#4a4aff" stroke-width="1.4"/>
<line x1="247.8" y1="365.61" x2="252.6" y2="365.61" stroke="#4a4aff" stroke-width="1.6"/>
<line x1="247.8" y1="391.26" x2="252.6" y2="391.26" stroke="#4a4aff" stroke-width="1.6"/>
<line x1="246.2" y1="378.43" x2="254.2" y2="378.43" stroke="#000" stroke-width="2"/>
<line x1="260.3" y1="370.98" x2="260.3" y2="375.35" stroke="#ff8040" stroke-width="1.4"/>
<line x1="257.9" y1="370.98" x2="262.7" y2="370.98" stroke="#ff8040" stroke-width="1.6"/>
<line x1="257.9" y1="375.35" x2="262.7" y2="375.35" stroke="#ff8040" stroke-width="1.6"/>
<line x1="256.3" y1="373.17" x2="264.3" y2="373.17" stroke="#000" stroke-width="2"/>
<line x1="270.2" y1="426.61" x2="270.2" y2="441.06" stroke="#f77ae6" stroke-width="1.4"/>
<line x1="267.8" y1="426.61" x2="272.6" y2="426.61" stroke="#f77ae6" stroke-width="1.6"/>
<line x1="267.8" y1="441.06" x2="272.6" y2="441.06" stroke="#f77ae6" stroke-width="1.6"/>
<line x1="266.2" y1="433.83" x2="274.2" y2="433.83" stroke="#000" stroke-width="2"/>
<line x1="285.87" y1="367.63" x2="285.87" y2="374.97" stroke="#333" stroke-width="1.4"/>
<line x1="283.47" y1="367.63" x2="288.27" y2="367.63" stroke="#111" stroke-width="1.6"/>
<line x1="283.47" y1="374.97" x2="288.27" y2="374.97" stroke="#111" stroke-width="1.6"/>
<line x1="281.87" y1="371.3" x2="289.87" y2="371.3" stroke="#000" stroke-width="2"/>
<line x1="296.3" y1="369.92" x2="296.3" y2="374.81" stroke="#ff4a4a" stroke-width="1.4"/>
<line x1="293.9" y1="369.92" x2="298.7" y2="369.92" stroke="#ff4a4a" stroke-width="1.6"/>
<line x1="293.9" y1="374.81" x2="298.7" y2="374.81" stroke="#ff4a4a" stroke-width="1.6"/>
<line x1="292.3" y1="372.37" x2="300.3" y2="372.37" stroke="#000" stroke-width="2"/>
<line x1="306.1" y1="366.19" x2="306.1" y2="373.75" stroke="#4a4aff" stroke-width="1.4"/>
<line x1="303.7" y1="366.19" x2="308.5" y2="366.19" stroke="#4a4aff" stroke-width="1.6"/>
<line x1="303.7" y1="373.75" x2="308.5" y2="373.75" stroke="#4a4aff" stroke-width="1.6"/>
<line x1="302.1" y1="369.97" x2="310.1" y2="369.97" stroke="#000" stroke-width="2"/>
<line x1="316" y1="368.96" x2="316" y2="376.84" stroke="#ff8040" stroke-width="1.4"/>
<line x1="313.6" y1="368.96" x2="318.4" y2="368.96" stroke="#ff8040" stroke-width="1.6"/>
<line x1="313.6" y1="376.84" x2="318.4" y2="376.84" stroke="#ff8040" stroke-width="1.6"/>
<line x1="312" y1="372.9" x2="320" y2="372.9" stroke="#000" stroke-width="2"/>
<line x1="326" y1="370.82" x2="326" y2="375.51" stroke="#f77ae6" stroke-width="1.4"/>
<line x1="323.6" y1="370.82" x2="328.4" y2="370.82" stroke="#f77ae6" stroke-width="1.6"/>
<line x1="323.6" y1="375.51" x2="328.4" y2="375.51" stroke="#f77ae6" stroke-width="1.6"/>
<line x1="322" y1="373.17" x2="330" y2="373.17" stroke="#000" stroke-width="2"/>
<circle cx="60.5" cy="337.5" r="3.45" fill="#000" stroke="none" stroke-width="0"/>
<circle cx="62.5" cy="333.8" r="3.45" fill="#000" stroke="none" stroke-width="0"/>
<circle cx="63.8" cy="336" r="3.45" fill="#000" stroke="none" stroke-width="0"/>
<circle cx="70.7" cy="362.2" r="3.45" fill="#ff0000" stroke="none" stroke-width="0"/>
<circle cx="73.1" cy="366.6" r="3.45" fill="#ff0000" stroke="none" stroke-width="0"/>
<circle cx="70.7" cy="370.6" r="3.45" fill="#ff0000" stroke="none" stroke-width="0"/>
<circle cx="81.9" cy="329.4" r="3.45" fill="#0000ff" stroke="none" stroke-width="0"/>
<circle cx="82.7" cy="353.3" r="3.45" fill="#0000ff" stroke="none" stroke-width="0"/>
<circle cx="80.7" cy="356.1" r="3.45" fill="#0000ff" stroke="none" stroke-width="0"/>
<circle cx="90.3" cy="340.1" r="3.45" fill="#ff6000" stroke="none" stroke-width="0"/>
<circle cx="93.2" cy="340.9" r="3.45" fill="#ff6000" stroke="none" stroke-width="0"/>
<circle cx="91.5" cy="352.9" r="3.45" fill="#ff6000" stroke="none" stroke-width="0"/>
<circle cx="100.4" cy="335.7" r="3.45" fill="#f050dd" stroke="none" stroke-width="0"/>
<circle cx="103.2" cy="338.5" r="3.45" fill="#f050dd" stroke="none" stroke-width="0"/>
<circle cx="101.6" cy="348.5" r="3.45" fill="#f050dd" stroke="none" stroke-width="0"/>
<circle cx="117.2" cy="384.3" r="3.45" fill="#000" stroke="none" stroke-width="0"/>
<circle cx="119.6" cy="387.9" r="3.45" fill="#000" stroke="none" stroke-width="0"/>
<circle cx="118" cy="403.6" r="3.45" fill="#000" stroke="none" stroke-width="0"/>
<circle cx="128.1" cy="366.2" r="3.45" fill="#ff0000" stroke="none" stroke-width="0"/>
<circle cx="128.1" cy="373.9" r="3.45" fill="#ff0000" stroke="none" stroke-width="0"/>
<circle cx="128.1" cy="389.5" r="3.45" fill="#ff0000" stroke="none" stroke-width="0"/>
<circle cx="136.9" cy="371.9" r="3.45" fill="#0000ff" stroke="none" stroke-width="0"/>
<circle cx="138.9" cy="374.7" r="3.45" fill="#0000ff" stroke="none" stroke-width="0"/>
<circle cx="137.7" cy="391.1" r="3.45" fill="#0000ff" stroke="none" stroke-width="0"/>
<circle cx="147.8" cy="367" r="3.45" fill="#ff6000" stroke="none" stroke-width="0"/>
<circle cx="149.4" cy="370.7" r="3.45" fill="#ff6000" stroke="none" stroke-width="0"/>
<circle cx="146.5" cy="372.3" r="3.45" fill="#ff6000" stroke="none" stroke-width="0"/>
<circle cx="157.8" cy="390.3" r="3.45" fill="#f050dd" stroke="none" stroke-width="0"/>
<circle cx="157.8" cy="404.4" r="3.45" fill="#f050dd" stroke="none" stroke-width="0"/>
<circle cx="159" cy="405.2" r="3.45" fill="#f050dd" stroke="none" stroke-width="0"/>
<circle cx="173.3" cy="403" r="3.45" fill="#000" stroke="none" stroke-width="0"/>
<circle cx="176" cy="404.7" r="3.45" fill="#000" stroke="none" stroke-width="0"/>
<circle cx="174" cy="431.2" r="3.45" fill="#000" stroke="none" stroke-width="0"/>
<circle cx="183.2" cy="361.1" r="3.45" fill="#ff0000" stroke="none" stroke-width="0"/>
<circle cx="182.1" cy="366" r="3.45" fill="#ff0000" stroke="none" stroke-width="0"/>
<circle cx="185.4" cy="363.8" r="3.45" fill="#ff0000" stroke="none" stroke-width="0"/>
<circle cx="193.2" cy="361.1" r="3.45" fill="#0000ff" stroke="none" stroke-width="0"/>
<circle cx="194.8" cy="363.3" r="3.45" fill="#0000ff" stroke="none" stroke-width="0"/>
<circle cx="192" cy="364.4" r="3.45" fill="#0000ff" stroke="none" stroke-width="0"/>
<circle cx="203.1" cy="362.7" r="3.45" fill="#ff6000" stroke="none" stroke-width="0"/>
<circle cx="205.3" cy="364.4" r="3.45" fill="#ff6000" stroke="none" stroke-width="0"/>
<circle cx="202.5" cy="365.5" r="3.45" fill="#ff6000" stroke="none" stroke-width="0"/>
<circle cx="213.6" cy="381" r="3.45" fill="#f050dd" stroke="none" stroke-width="0"/>
<circle cx="215.8" cy="426.2" r="3.45" fill="#f050dd" stroke="none" stroke-width="0"/>
<circle cx="213.6" cy="428.4" r="3.45" fill="#f050dd" stroke="none" stroke-width="0"/>
<circle cx="230.2" cy="435.2" r="3.45" fill="#000" stroke="none" stroke-width="0"/>
<circle cx="230.2" cy="441.7" r="3.45" fill="#000" stroke="none" stroke-width="0"/>
<circle cx="230.2" cy="457.4" r="3.45" fill="#000" stroke="none" stroke-width="0"/>
<circle cx="239.2" cy="367.9" r="3.45" fill="#ff0000" stroke="none" stroke-width="0"/>
<circle cx="241.3" cy="370.5" r="3.45" fill="#ff0000" stroke="none" stroke-width="0"/>
<circle cx="239.9" cy="378.6" r="3.45" fill="#ff0000" stroke="none" stroke-width="0"/>
<circle cx="249.9" cy="364.7" r="3.45" fill="#0000ff" stroke="none" stroke-width="0"/>
<circle cx="249.9" cy="380.5" r="3.45" fill="#0000ff" stroke="none" stroke-width="0"/>
<circle cx="249.9" cy="390.1" r="3.45" fill="#0000ff" stroke="none" stroke-width="0"/>
<circle cx="260" cy="370.8" r="3.45" fill="#ff6000" stroke="none" stroke-width="0"/>
<circle cx="261.4" cy="373.6" r="3.45" fill="#ff6000" stroke="none" stroke-width="0"/>
<circle cx="259" cy="375.1" r="3.45" fill="#ff6000" stroke="none" stroke-width="0"/>
<circle cx="270" cy="426.3" r="3.45" fill="#f050dd" stroke="none" stroke-width="0"/>
<circle cx="271.4" cy="434.5" r="3.45" fill="#f050dd" stroke="none" stroke-width="0"/>
<circle cx="269" cy="440.7" r="3.45" fill="#f050dd" stroke="none" stroke-width="0"/>
<circle cx="284.8" cy="368.1" r="3.45" fill="#000" stroke="none" stroke-width="0"/>
<circle cx="288" cy="370.5" r="3.45" fill="#000" stroke="none" stroke-width="0"/>
<circle cx="284.8" cy="375.3" r="3.45" fill="#000" stroke="none" stroke-width="0"/>
<circle cx="296.1" cy="369.7" r="3.45" fill="#ff0000" stroke="none" stroke-width="0"/>
<circle cx="297.7" cy="372.9" r="3.45" fill="#ff0000" stroke="none" stroke-width="0"/>
<circle cx="294.9" cy="374.5" r="3.45" fill="#ff0000" stroke="none" stroke-width="0"/>
<circle cx="304.9" cy="365.7" r="3.45" fill="#0000ff" stroke="none" stroke-width="0"/>
<circle cx="306.9" cy="371.3" r="3.45" fill="#0000ff" stroke="none" stroke-width="0"/>
<circle cx="304.5" cy="372.9" r="3.45" fill="#0000ff" stroke="none" stroke-width="0"/>
<circle cx="315" cy="368.5" r="3.45" fill="#ff6000" stroke="none" stroke-width="0"/>
<circle cx="316.6" cy="374.1" r="3.45" fill="#ff6000" stroke="none" stroke-width="0"/>
<circle cx="314.5" cy="376.1" r="3.45" fill="#ff6000" stroke="none" stroke-width="0"/>
<circle cx="327" cy="370.5" r="3.45" fill="#f050dd" stroke="none" stroke-width="0"/>
<circle cx="325.4" cy="374.1" r="3.45" fill="#f050dd" stroke="none" stroke-width="0"/>
<circle cx="325" cy="374.9" r="3.45" fill="#f050dd" stroke="none" stroke-width="0"/>
<circle cx="63.9" cy="420.6" r="3.45" fill="#000" stroke="none" stroke-width="0"/>
<text x="87" y="424.7" font-size="11.9" text-anchor="start" font-weight="bold" fill="#000">CDM</text>
<circle cx="63.9" cy="431.8" r="3.45" fill="#ff0000" stroke="none" stroke-width="0"/>
<text x="87" y="435.9" font-size="11.9" text-anchor="start" font-weight="bold" fill="#000">CDM-R</text>
<circle cx="63.9" cy="443" r="3.45" fill="#0000ff" stroke="none" stroke-width="0"/>
<text x="87" y="447.1" font-size="11.9" text-anchor="start" font-weight="bold" fill="#000">CDM-P</text>
<circle cx="63.9" cy="454.9" r="3.45" fill="#ff6000" stroke="none" stroke-width="0"/>
<text x="87" y="459" font-size="11.9" text-anchor="start" font-weight="bold" fill="#000">CDM-V</text>
<circle cx="63.9" cy="466.3" r="3.45" fill="#f050dd" stroke="none" stroke-width="0"/>
<text x="87" y="470.4" font-size="11.9" text-anchor="start" font-weight="bold" fill="#000">CDM-A</text>
<text x="358.7" y="272.5" font-size="17" text-anchor="start" font-weight="bold" fill="#000">d</text>
<line x1="436.1" y1="292.7" x2="436.1" y2="481.2" stroke="#000" stroke-width="2.4"/>
<line x1="434.9" y1="480.1" x2="634.2" y2="480.1" stroke="#000" stroke-width="2.4"/>
<line x1="428.2" y1="307.96" x2="436.1" y2="307.96" stroke="#000" stroke-width="2.4"/>
<text x="425.7" y="312.26" font-size="12.2" text-anchor="end" font-weight="bold" fill="#000">2</text>
<line x1="428.2" y1="365.4" x2="436.1" y2="365.4" stroke="#000" stroke-width="2.4"/>
<text x="425.7" y="369.7" font-size="12.2" text-anchor="end" font-weight="bold" fill="#000">0</text>
<line x1="428.2" y1="422.84" x2="436.1" y2="422.84" stroke="#000" stroke-width="2.4"/>
<text x="425.7" y="427.14" font-size="12.2" text-anchor="end" font-weight="bold" fill="#000">-2</text>
<line x1="428.2" y1="480.28" x2="436.1" y2="480.28" stroke="#000" stroke-width="2.4"/>
<text x="425.7" y="484.58" font-size="12.2" text-anchor="end" font-weight="bold" fill="#000">-4</text>
<text transform="translate(388,451.8) rotate(-90)" font-size="12.5" font-weight="bold">Log<tspan font-size="8.8" dy="3">10</tspan><tspan dy="-3"> Fold Difference</tspan></text>
<text transform="translate(404.3,388.3) rotate(-90)" font-size="12.5" font-weight="bold" text-anchor="middle">(Change in CFUs)</text>
<text x="531.7" y="274.3" font-size="12.45" text-anchor="middle" font-weight="bold" fill="#000">24 hr Antibiotic Exposure</text>
<line x1="440.6" y1="365.4" x2="631" y2="365.4" stroke="#000" stroke-width="1.7" stroke-dasharray="1.7 4.37"/>
<path d="M446.5 296.7V285.5H465.5V383.9" fill="none" stroke="#333" stroke-width="1.2" stroke-linejoin="miter" stroke-linecap="butt"/>
<polygon points="442.55,279.45 443.17,280.94 444.78,281.07 443.56,282.13 443.93,283.7 442.55,282.86 441.17,283.7 441.54,282.13 440.32,281.07 441.93,280.94" fill="#111"/>
<polygon points="450.25,279.45 450.87,280.94 452.48,281.07 451.26,282.13 451.63,283.7 450.25,282.86 448.87,283.7 449.24,282.13 448.02,281.07 449.63,280.94" fill="#111"/>
<polygon points="457.95,279.45 458.57,280.94 460.18,281.07 458.96,282.13 459.33,283.7 457.95,282.86 456.57,283.7 456.94,282.13 455.72,281.07 457.33,280.94" fill="#111"/>
<polygon points="465.65,279.45 466.27,280.94 467.88,281.07 466.66,282.13 467.03,283.7 465.65,282.86 464.27,283.7 464.64,282.13 463.42,281.07 465.03,280.94" fill="#111"/>
<path d="M485.5 349.6V285.5H505.5V351.5" fill="none" stroke="#333" stroke-width="1.2" stroke-linejoin="miter" stroke-linecap="butt"/>
<text x="495.5" y="283.6" font-size="8.5" text-anchor="middle" font-weight="normal" fill="#333">ns</text>
<path d="M525.5 352.9V285.5H545.5V357.3" fill="none" stroke="#333" stroke-width="1.2" stroke-linejoin="miter" stroke-linecap="butt"/>
<text x="535.25" y="283.6" font-size="8.5" text-anchor="middle" font-weight="normal" fill="#333">ns</text>
<path d="M564.5 354.7V285.5H584.5V360.6" fill="none" stroke="#333" stroke-width="1.2" stroke-linejoin="miter" stroke-linecap="butt"/>
<text x="574.45" y="283.6" font-size="8.5" text-anchor="middle" font-weight="normal" fill="#333">ns</text>
<path d="M604.5 360.8V285.5H624.5V361.3" fill="none" stroke="#333" stroke-width="1.2" stroke-linejoin="miter" stroke-linecap="butt"/>
<text x="614.15" y="283.6" font-size="8.5" text-anchor="middle" font-weight="normal" fill="#333">ns</text>
<line x1="446.3" y1="312" x2="446.3" y2="351" stroke="#000" stroke-width="2.4"/>
<line x1="442.2" y1="312" x2="450.6" y2="312" stroke="#000" stroke-width="2.4"/>
<line x1="442.2" y1="351" x2="450.6" y2="351" stroke="#000" stroke-width="2.4"/>
<line x1="437.2" y1="331.2" x2="455.2" y2="331.2" stroke="#000" stroke-width="2.4"/>
<circle cx="446.3" cy="309.3" r="3.6" fill="#000" stroke="none" stroke-width="0"/>
<circle cx="440.5" cy="342.2" r="3.6" fill="#000" stroke="none" stroke-width="0"/>
<circle cx="452.4" cy="342.2" r="3.6" fill="#000" stroke="none" stroke-width="0"/>
<line x1="465.9" y1="398.4" x2="465.9" y2="440.5" stroke="#000" stroke-width="2.6"/>
<line x1="461.8" y1="398.4" x2="470" y2="398.4" stroke="#000" stroke-width="2.6"/>
<line x1="461.8" y1="440.5" x2="470" y2="440.5" stroke="#000" stroke-width="2.6"/>
<line x1="457.2" y1="418.9" x2="474.7" y2="418.9" stroke="#000" stroke-width="2.4"/>
<circle cx="465.9" cy="396.2" r="2.9" fill="#fff" stroke="#000" stroke-width="1.8"/>
<circle cx="465.9" cy="423.3" r="2.9" fill="#fff" stroke="#000" stroke-width="1.8"/>
<circle cx="465.9" cy="437.5" r="2.9" fill="#fff" stroke="#000" stroke-width="1.8"/>
<line x1="483.4" y1="361.67" x2="483.4" y2="370.8" stroke="#ff0000" stroke-width="2.4"/>
<line x1="477.1" y1="361.67" x2="489.7" y2="361.67" stroke="#ff0000" stroke-width="2.8"/>
<line x1="477.1" y1="370.8" x2="489.7" y2="370.8" stroke="#ff0000" stroke-width="2.8"/>
<line x1="476.9" y1="366.23" x2="487.9" y2="366.23" stroke="#000" stroke-width="2.2"/>
<line x1="505.8" y1="363.57" x2="505.8" y2="368.23" stroke="#ff0000" stroke-width="2.4"/>
<line x1="499.5" y1="363.57" x2="512.1" y2="363.57" stroke="#ff0000" stroke-width="2.8"/>
<line x1="499.5" y1="368.23" x2="512.1" y2="368.23" stroke="#ff0000" stroke-width="2.8"/>
<line x1="499.3" y1="365.9" x2="510.3" y2="365.9" stroke="#000" stroke-width="2.2"/>
<line x1="525.3" y1="366.23" x2="525.3" y2="370.9" stroke="#a000e8" stroke-width="2.4"/>
<line x1="519" y1="366.23" x2="531.6" y2="366.23" stroke="#a000e8" stroke-width="2.8"/>
<line x1="519" y1="370.9" x2="531.6" y2="370.9" stroke="#a000e8" stroke-width="2.8"/>
<line x1="518.8" y1="368.57" x2="529.8" y2="368.57" stroke="#000" stroke-width="2.2"/>
<line x1="545" y1="371.39" x2="545" y2="377.41" stroke="#a000e8" stroke-width="2.4"/>
<line x1="538.7" y1="371.39" x2="551.3" y2="371.39" stroke="#a000e8" stroke-width="2.8"/>
<line x1="538.7" y1="377.41" x2="551.3" y2="377.41" stroke="#a000e8" stroke-width="2.8"/>
<line x1="538.5" y1="374.4" x2="549.5" y2="374.4" stroke="#000" stroke-width="2.2"/>
<line x1="564.8" y1="365.78" x2="564.8" y2="369.42" stroke="#10c080" stroke-width="2.4"/>
<line x1="558.5" y1="365.78" x2="571.1" y2="365.78" stroke="#10c080" stroke-width="2.8"/>
<line x1="558.5" y1="369.42" x2="571.1" y2="369.42" stroke="#10c080" stroke-width="2.8"/>
<line x1="558.3" y1="367.6" x2="569.3" y2="367.6" stroke="#000" stroke-width="2.2"/>
<line x1="584.6" y1="372.91" x2="584.6" y2="375.56" stroke="#10c080" stroke-width="2.4"/>
<line x1="578.3" y1="372.91" x2="590.9" y2="372.91" stroke="#10c080" stroke-width="2.8"/>
<line x1="578.3" y1="375.56" x2="590.9" y2="375.56" stroke="#10c080" stroke-width="2.8"/>
<line x1="578.1" y1="374.23" x2="589.1" y2="374.23" stroke="#000" stroke-width="2.2"/>
<line x1="604.2" y1="372.4" x2="604.2" y2="375.73" stroke="#ffc080" stroke-width="2.4"/>
<line x1="597.9" y1="372.4" x2="610.5" y2="372.4" stroke="#ffc080" stroke-width="2.8"/>
<line x1="597.9" y1="375.73" x2="610.5" y2="375.73" stroke="#ffc080" stroke-width="2.8"/>
<line x1="597.7" y1="374.07" x2="608.7" y2="374.07" stroke="#000" stroke-width="2.2"/>
<line x1="624.2" y1="373.53" x2="624.2" y2="377.07" stroke="#ffc080" stroke-width="2.4"/>
<line x1="617.9" y1="373.53" x2="630.5" y2="373.53" stroke="#ffc080" stroke-width="2.8"/>
<line x1="617.9" y1="377.07" x2="630.5" y2="377.07" stroke="#ffc080" stroke-width="2.8"/>
<line x1="617.7" y1="375.3" x2="628.7" y2="375.3" stroke="#000" stroke-width="2.2"/>
<circle cx="479.8" cy="361.2" r="3.45" fill="#ff0000" stroke="none" stroke-width="0"/>
<circle cx="479.8" cy="370.1" r="3.45" fill="#ff0000" stroke="none" stroke-width="0"/>
<circle cx="492" cy="367.4" r="3.45" fill="#ff0000" stroke="none" stroke-width="0"/>
<circle cx="499.6" cy="368.4" r="2.75" fill="#fff" stroke="#ff0000" stroke-width="1.45"/>
<circle cx="505.5" cy="363.8" r="2.75" fill="#fff" stroke="#ff0000" stroke-width="1.45"/>
<circle cx="511.4" cy="365.5" r="2.75" fill="#fff" stroke="#ff0000" stroke-width="1.45"/>
<circle cx="519.2" cy="371.1" r="3.45" fill="#a000e8" stroke="none" stroke-width="0"/>
<circle cx="525.5" cy="366.5" r="3.45" fill="#a000e8" stroke="none" stroke-width="0"/>
<circle cx="531.7" cy="368.1" r="3.45" fill="#a000e8" stroke="none" stroke-width="0"/>
<circle cx="538.9" cy="377.7" r="2.75" fill="#fff" stroke="#a000e8" stroke-width="1.45"/>
<circle cx="544.9" cy="371.8" r="2.75" fill="#fff" stroke="#a000e8" stroke-width="1.45"/>
<circle cx="551.1" cy="373.7" r="2.75" fill="#fff" stroke="#a000e8" stroke-width="1.45"/>
<circle cx="558.6" cy="368.8" r="3.45" fill="#10c080" stroke="none" stroke-width="0"/>
<circle cx="564.8" cy="365.5" r="3.45" fill="#10c080" stroke="none" stroke-width="0"/>
<circle cx="571" cy="368.5" r="3.45" fill="#10c080" stroke="none" stroke-width="0"/>
<circle cx="578.6" cy="375" r="2.75" fill="#fff" stroke="#10c080" stroke-width="1.45"/>
<circle cx="584.5" cy="372.7" r="2.75" fill="#fff" stroke="#10c080" stroke-width="1.45"/>
<circle cx="590.8" cy="375" r="2.75" fill="#fff" stroke="#10c080" stroke-width="1.45"/>
<circle cx="598" cy="375.6" r="3.45" fill="#ffc080" stroke="none" stroke-width="0"/>
<circle cx="604.1" cy="372.3" r="3.45" fill="#ffc080" stroke="none" stroke-width="0"/>
<circle cx="610.4" cy="374.3" r="3.45" fill="#ffc080" stroke="none" stroke-width="0"/>
<circle cx="618.1" cy="376.9" r="2.75" fill="#fff" stroke="#ffc080" stroke-width="1.45"/>
<circle cx="624.2" cy="373.4" r="2.75" fill="#fff" stroke="#ffc080" stroke-width="1.45"/>
<circle cx="630.1" cy="375.6" r="2.75" fill="#fff" stroke="#ffc080" stroke-width="1.45"/>
<circle cx="511.7" cy="410.1" r="3.6" fill="#000" stroke="none" stroke-width="0"/>
<text x="534.4" y="414.4" font-size="12.4" text-anchor="start" font-weight="bold" fill="#000">CDM</text>
<circle cx="625.4" cy="410.1" r="2.85" fill="#fff" stroke="#000" stroke-width="1.4"/>
<circle cx="511.7" cy="424.1" r="3.6" fill="#ff0000" stroke="none" stroke-width="0"/>
<text x="534.4" y="428.4" font-size="12.4" text-anchor="start" font-weight="bold" fill="#000">CDM-R</text>
<circle cx="625.4" cy="424.1" r="2.85" fill="#fff" stroke="#ff0000" stroke-width="1.4"/>
<circle cx="511.7" cy="438.2" r="3.6" fill="#a000e8" stroke="none" stroke-width="0"/>
<text x="534.4" y="442.5" font-size="12.4" text-anchor="start" font-weight="bold" fill="#000">CDM + LZD</text>
<circle cx="625.4" cy="438.2" r="2.85" fill="#fff" stroke="#a000e8" stroke-width="1.4"/>
<circle cx="511.7" cy="451.8" r="3.6" fill="#10c080" stroke="none" stroke-width="0"/>
<text x="534.4" y="456.1" font-size="12.4" text-anchor="start" font-weight="bold" fill="#000">CDM + DOX</text>
<circle cx="625.4" cy="451.8" r="2.85" fill="#fff" stroke="#10c080" stroke-width="1.4"/>
<circle cx="511.7" cy="466.3" r="3.6" fill="#ffc080" stroke="none" stroke-width="0"/>
<text x="534.4" y="470.6" font-size="12.4" text-anchor="start" font-weight="bold" fill="#000">CDM + CLD</text>
<circle cx="625.4" cy="466.3" r="2.85" fill="#fff" stroke="#ffc080" stroke-width="1.4"/>
<rect x="610.8" y="400.6" width="3.2" height="72" fill="#000" stroke="none" stroke-width="0"/>
<text x="649.3" y="440.2" font-size="12.4" text-anchor="start" font-weight="bold" fill="#000">+ CPT</text>
<text x="1.5" y="509.9" font-size="17" text-anchor="start" font-weight="bold" fill="#000">e</text>
<line x1="90.9" y1="511.8" x2="90.9" y2="699.6" stroke="#000" stroke-width="2.4"/>
<line x1="89.7" y1="698.4" x2="307" y2="698.4" stroke="#000" stroke-width="2.4"/>
<line x1="83.2" y1="698.4" x2="90.9" y2="698.4" stroke="#000" stroke-width="2.4"/>
<text x="81.3" y="701.8" font-size="9.6" text-anchor="end" font-weight="bold" fill="#000">0</text>
<line x1="83.2" y1="661.3" x2="90.9" y2="661.3" stroke="#000" stroke-width="2.4"/>
<text x="81.3" y="664.7" font-size="9.6" text-anchor="end" font-weight="bold" fill="#000">2</text>
<line x1="83.2" y1="624.2" x2="90.9" y2="624.2" stroke="#000" stroke-width="2.4"/>
<text x="81.3" y="627.6" font-size="9.6" text-anchor="end" font-weight="bold" fill="#000">4</text>
<line x1="83.2" y1="587.1" x2="90.9" y2="587.1" stroke="#000" stroke-width="2.4"/>
<text x="81.3" y="590.5" font-size="9.6" text-anchor="end" font-weight="bold" fill="#000">6</text>
<line x1="83.2" y1="550" x2="90.9" y2="550" stroke="#000" stroke-width="2.4"/>
<text x="81.3" y="553.4" font-size="9.6" text-anchor="end" font-weight="bold" fill="#000">8</text>
<line x1="83.2" y1="512.9" x2="90.9" y2="512.9" stroke="#000" stroke-width="2.4"/>
<text x="81.3" y="516.3" font-size="9.6" text-anchor="end" font-weight="bold" fill="#000">10</text>
<text transform="translate(50.8,607.8) rotate(-90)" font-size="10.3" font-weight="bold" text-anchor="middle">Nascent Protein/Total Protein</text>
<text transform="translate(61.6,607.6) rotate(-90)" font-size="10.4" font-weight="bold" text-anchor="middle">(680RD/Ponceau S)</text>
<line x1="105.9" y1="692.9" x2="105.9" y2="680.35" stroke="#000" stroke-width="1.7"/>
<line x1="101.3" y1="680.35" x2="110.5" y2="680.35" stroke="#000" stroke-width="1.9"/>
<line x1="154.3" y1="620.5" x2="154.3" y2="613.44" stroke="#000" stroke-width="1.7"/>
<line x1="149.7" y1="613.44" x2="158.9" y2="613.44" stroke="#000" stroke-width="1.9"/>
<line x1="181.5" y1="650.3" x2="181.5" y2="640.35" stroke="#000" stroke-width="1.7"/>
<line x1="176.9" y1="640.35" x2="186.1" y2="640.35" stroke="#000" stroke-width="1.9"/>
<line x1="208.9" y1="693.4" x2="208.9" y2="691.62" stroke="#000" stroke-width="1.7"/>
<line x1="204.3" y1="691.62" x2="213.5" y2="691.62" stroke="#000" stroke-width="1.9"/>
<line x1="236.4" y1="687.1" x2="236.4" y2="677.16" stroke="#000" stroke-width="1.7"/>
<line x1="231.8" y1="677.16" x2="241" y2="677.16" stroke="#000" stroke-width="1.9"/>
<line x1="263.5" y1="688.5" x2="263.5" y2="680.16" stroke="#000" stroke-width="1.7"/>
<line x1="258.9" y1="680.16" x2="268.1" y2="680.16" stroke="#000" stroke-width="1.9"/>
<line x1="291" y1="689.3" x2="291" y2="681.95" stroke="#000" stroke-width="1.7"/>
<line x1="286.4" y1="681.95" x2="295.6" y2="681.95" stroke="#000" stroke-width="1.9"/>
<rect x="96.5" y="692.9" width="18.8" height="5.5" fill="#a1a0a5" stroke="#000" stroke-width="2.3"/>
<rect x="144.9" y="620.5" width="18.8" height="77.9" fill="#a1a0a5" stroke="#000" stroke-width="2.3"/>
<rect x="172.1" y="650.3" width="18.8" height="48.1" fill="#a1a0a5" stroke="#000" stroke-width="2.3"/>
<rect x="199.5" y="693.4" width="18.8" height="5" fill="#a1a0a5" stroke="#000" stroke-width="2.3"/>
<rect x="227" y="687.1" width="18.8" height="11.3" fill="#a1a0a5" stroke="#000" stroke-width="2.3"/>
<rect x="254.1" y="688.5" width="18.8" height="9.9" fill="#a1a0a5" stroke="#000" stroke-width="2.3"/>
<rect x="281.6" y="689.3" width="18.8" height="9.1" fill="#a1a0a5" stroke="#000" stroke-width="2.3"/>
<circle cx="105.9" cy="678.3" r="3.5" fill="#fff" stroke="#000" stroke-width="1.35"/>
<circle cx="99" cy="700.7" r="3.5" fill="#fff" stroke="#000" stroke-width="1.35"/>
<circle cx="112.7" cy="699.3" r="3.5" fill="#fff" stroke="#000" stroke-width="1.35"/>
<circle cx="154.3" cy="611.9" r="3.5" fill="#fff" stroke="#000" stroke-width="1.35"/>
<circle cx="147.2" cy="624.5" r="3.5" fill="#fff" stroke="#000" stroke-width="1.35"/>
<circle cx="160.7" cy="623.7" r="3.5" fill="#fff" stroke="#000" stroke-width="1.35"/>
<circle cx="181.5" cy="638.5" r="3.5" fill="#fff" stroke="#000" stroke-width="1.35"/>
<circle cx="174.7" cy="657.5" r="3.5" fill="#fff" stroke="#000" stroke-width="1.35"/>
<circle cx="188.4" cy="653.1" r="3.5" fill="#fff" stroke="#000" stroke-width="1.35"/>
<circle cx="201.9" cy="694.6" r="3.5" fill="#fff" stroke="#000" stroke-width="1.35"/>
<circle cx="208.9" cy="691.1" r="3.5" fill="#fff" stroke="#000" stroke-width="1.35"/>
<circle cx="215.4" cy="693.4" r="3.5" fill="#fff" stroke="#000" stroke-width="1.35"/>
<circle cx="236.1" cy="675" r="3.5" fill="#fff" stroke="#000" stroke-width="1.35"/>
<circle cx="229.4" cy="693.4" r="3.5" fill="#fff" stroke="#000" stroke-width="1.35"/>
<circle cx="242.9" cy="690.7" r="3.5" fill="#fff" stroke="#000" stroke-width="1.35"/>
<circle cx="263.5" cy="678.3" r="3.5" fill="#fff" stroke="#000" stroke-width="1.35"/>
<circle cx="256.9" cy="693.4" r="3.5" fill="#fff" stroke="#000" stroke-width="1.35"/>
<circle cx="270.2" cy="692" r="3.5" fill="#fff" stroke="#000" stroke-width="1.35"/>
<circle cx="291.3" cy="680.6" r="3.5" fill="#fff" stroke="#000" stroke-width="1.35"/>
<circle cx="284.6" cy="694.6" r="3.5" fill="#fff" stroke="#000" stroke-width="1.35"/>
<circle cx="298.6" cy="691.5" r="3.5" fill="#fff" stroke="#000" stroke-width="1.35"/>
<path d="M181.5 529.2V517.5H263.5V559.6" fill="none" stroke="#222" stroke-width="1.15" stroke-linejoin="miter" stroke-linecap="butt"/>
<polygon points="211.6,512.7 212.21,514.16 213.79,514.29 212.58,515.32 212.95,516.86 211.6,516.03 210.25,516.86 210.62,515.32 209.41,514.29 210.99,514.16" fill="#111"/>
<polygon points="219.2,512.7 219.81,514.16 221.39,514.29 220.18,515.32 220.55,516.86 219.2,516.03 217.85,516.86 218.22,515.32 217.01,514.29 218.59,514.16" fill="#111"/>
<polygon points="226.8,512.7 227.41,514.16 228.99,514.29 227.78,515.32 228.15,516.86 226.8,516.03 225.45,516.86 225.82,515.32 224.61,514.29 226.19,514.16" fill="#111"/>
<path d="M154.5 557.2V545.5H236.5V557.2" fill="none" stroke="#222" stroke-width="1.15" stroke-linejoin="miter" stroke-linecap="butt"/>
<polygon points="181.9,540.7 182.51,542.16 184.09,542.29 182.88,543.32 183.25,544.86 181.9,544.03 180.55,544.86 180.92,543.32 179.71,542.29 181.29,542.16" fill="#111"/>
<polygon points="189.5,540.7 190.11,542.16 191.69,542.29 190.48,543.32 190.85,544.86 189.5,544.03 188.15,544.86 188.52,543.32 187.31,542.29 188.89,542.16" fill="#111"/>
<polygon points="197.1,540.7 197.71,542.16 199.29,542.29 198.08,543.32 198.45,544.86 197.1,544.03 195.75,544.86 196.12,543.32 194.91,542.29 196.49,542.16" fill="#111"/>
<polygon points="204.7,540.7 205.31,542.16 206.89,542.29 205.68,543.32 206.05,544.86 204.7,544.03 203.35,544.86 203.72,543.32 202.51,542.29 204.09,542.16" fill="#111"/>
<path d="M154.5 579.4V570.5H205.5V592.7" fill="none" stroke="#222" stroke-width="1.15" stroke-linejoin="miter" stroke-linecap="butt"/>
<polygon points="166.9,565.7 167.51,567.16 169.09,567.29 167.88,568.32 168.25,569.86 166.9,569.03 165.55,569.86 165.92,568.32 164.71,567.29 166.29,567.16" fill="#111"/>
<polygon points="174.5,565.7 175.11,567.16 176.69,567.29 175.48,568.32 175.85,569.86 174.5,569.03 173.15,569.86 173.52,568.32 172.31,567.29 173.89,567.16" fill="#111"/>
<polygon points="182.1,565.7 182.71,567.16 184.29,567.29 183.08,568.32 183.45,569.86 182.1,569.03 180.75,569.86 181.12,568.32 179.91,567.29 181.49,567.16" fill="#111"/>
<polygon points="189.7,565.7 190.31,567.16 191.89,567.29 190.68,568.32 191.05,569.86 189.7,569.03 188.35,569.86 188.72,568.32 187.51,567.29 189.09,567.16" fill="#111"/>
<path d="M212.5 592.7V570.5H291.5V592.7" fill="none" stroke="#222" stroke-width="1.15" stroke-linejoin="miter" stroke-linecap="butt"/>
<text x="251.9" y="567.4" font-size="9.3" text-anchor="middle" font-weight="normal" fill="#111" stroke="#111" stroke-width="0.35">ns</text>
<path d="M154.5 600.9V590.5H181.5V604.6" fill="none" stroke="#222" stroke-width="1.15" stroke-linejoin="miter" stroke-linecap="butt"/>
<polygon points="164,585.2 164.61,586.66 166.19,586.79 164.98,587.82 165.35,589.36 164,588.53 162.65,589.36 163.02,587.82 161.81,586.79 163.39,586.66" fill="#111"/>
<polygon points="171.6,585.2 172.21,586.66 173.79,586.79 172.58,587.82 172.95,589.36 171.6,588.53 170.25,589.36 170.62,587.82 169.41,586.79 170.99,586.66" fill="#111"/>
<path d="M236.5 610.3V600.5H291.5V610.3" fill="none" stroke="#222" stroke-width="1.15" stroke-linejoin="miter" stroke-linecap="butt"/>
<text x="263.8" y="596.9" font-size="9.3" text-anchor="middle" font-weight="normal" fill="#111" stroke="#111" stroke-width="0.35">ns</text>
<path d="M181.5 627.2V616.5H208.5V680.6" fill="none" stroke="#222" stroke-width="1.15" stroke-linejoin="miter" stroke-linecap="butt"/>
<polygon points="186.7,611.3 187.31,612.76 188.89,612.89 187.68,613.92 188.05,615.46 186.7,614.63 185.35,615.46 185.72,613.92 184.51,612.89 186.09,612.76" fill="#111"/>
<polygon points="194.3,611.3 194.91,612.76 196.49,612.89 195.28,613.92 195.65,615.46 194.3,614.63 192.95,615.46 193.32,613.92 192.11,612.89 193.69,612.76" fill="#111"/>
<polygon points="201.9,611.3 202.51,612.76 204.09,612.89 202.88,613.92 203.25,615.46 201.9,614.63 200.55,615.46 200.92,613.92 199.71,612.89 201.29,612.76" fill="#111"/>
<path d="M236.5 665.7V630.5H260.5V668.3" fill="none" stroke="#222" stroke-width="1.15" stroke-linejoin="miter" stroke-linecap="butt"/>
<text x="248.4" y="627" font-size="9.3" text-anchor="middle" font-weight="normal" fill="#111" stroke="#111" stroke-width="0.35">ns</text>
<path d="M267.5 668.3V630.5H291.5V670" fill="none" stroke="#222" stroke-width="1.15" stroke-linejoin="miter" stroke-linecap="butt"/>
<text x="279.2" y="627" font-size="9.3" text-anchor="middle" font-weight="normal" fill="#111" stroke="#111" stroke-width="0.35">ns</text>
<text x="90.5" y="715.3" font-size="12.3" text-anchor="end" font-weight="bold" fill="#000">Arginine</text>
<text x="90.5" y="729.9" font-size="12.3" text-anchor="end" font-weight="bold" fill="#000">Vancomycin</text>
<text x="90.5" y="744.1" font-size="12.3" text-anchor="end" font-weight="bold" fill="#000">Linezolid</text>
<text x="103.6" y="714.4" font-size="12.8" text-anchor="middle" font-weight="bold" fill="#000">+</text>
<text x="153.5" y="714.4" font-size="12.8" text-anchor="middle" font-weight="bold" fill="#000">+</text>
<text x="180.5" y="714.4" font-size="12.8" text-anchor="middle" font-weight="bold" fill="#000">+</text>
<text x="210.9" y="714.4" font-size="12.8" text-anchor="middle" font-weight="bold" fill="#000">+</text>
<text x="238.4" y="714.4" font-size="12.8" text-anchor="middle" font-weight="bold" fill="#000">-</text>
<text x="265.3" y="714.4" font-size="12.8" text-anchor="middle" font-weight="bold" fill="#000">-</text>
<text x="294.5" y="714.4" font-size="12.8" text-anchor="middle" font-weight="bold" fill="#000">-</text>
<text x="103.6" y="729.9" font-size="12.8" text-anchor="middle" font-weight="bold" fill="#000">-</text>
<text x="153.5" y="729.9" font-size="12.8" text-anchor="middle" font-weight="bold" fill="#000">-</text>
<text x="180.5" y="729.9" font-size="12.8" text-anchor="middle" font-weight="bold" fill="#000">+</text>
<text x="210.9" y="729.9" font-size="12.8" text-anchor="middle" font-weight="bold" fill="#000">+</text>
<text x="238.4" y="729.9" font-size="12.8" text-anchor="middle" font-weight="bold" fill="#000">-</text>
<text x="265.3" y="729.9" font-size="12.8" text-anchor="middle" font-weight="bold" fill="#000">+</text>
<text x="294.5" y="729.9" font-size="12.8" text-anchor="middle" font-weight="bold" fill="#000">+</text>
<text x="103.6" y="745.2" font-size="12.8" text-anchor="middle" font-weight="bold" fill="#000">-</text>
<text x="153.5" y="745.2" font-size="12.8" text-anchor="middle" font-weight="bold" fill="#000">-</text>
<text x="180.5" y="745.2" font-size="12.8" text-anchor="middle" font-weight="bold" fill="#000">-</text>
<text x="210.9" y="745.2" font-size="12.8" text-anchor="middle" font-weight="bold" fill="#000">+</text>
<text x="238.4" y="745.2" font-size="12.8" text-anchor="middle" font-weight="bold" fill="#000">-</text>
<text x="265.3" y="745.2" font-size="12.8" text-anchor="middle" font-weight="bold" fill="#000">-</text>
<text x="294.5" y="745.2" font-size="12.8" text-anchor="middle" font-weight="bold" fill="#000">+</text>
<rect x="93.8" y="747.6" width="20.4" height="3" fill="#000" stroke="none" stroke-width="0"/>
<rect x="145" y="747.8" width="162.8" height="2.9" fill="#000" stroke="none" stroke-width="0"/>
<text x="104" y="763.8" font-size="12.2" text-anchor="start" font-weight="bold" fill="#000">T</text>
<text x="111.7" y="768.4" font-size="9" text-anchor="start" font-weight="bold" fill="#000">0</text>
<text x="225.3" y="763.4" font-size="12.2" text-anchor="middle" font-weight="bold" fill="#000">4 hr</text>
<text x="359.9" y="508.7" font-size="17" text-anchor="start" font-weight="bold" fill="#000">f</text>
<line x1="436.4" y1="511.1" x2="436.4" y2="696.7" stroke="#000" stroke-width="2.4"/>
<line x1="435.2" y1="695.5" x2="673" y2="695.5" stroke="#000" stroke-width="2.4"/>
<line x1="429.3" y1="512.3" x2="436.4" y2="512.3" stroke="#000" stroke-width="2.4"/>
<text x="426" y="516.2" font-size="11" text-anchor="end" font-weight="bold" fill="#000">2</text>
<line x1="429.3" y1="564.6" x2="436.4" y2="564.6" stroke="#000" stroke-width="2.4"/>
<text x="426" y="568.5" font-size="11" text-anchor="end" font-weight="bold" fill="#000">0</text>
<line x1="429.3" y1="616.9" x2="436.4" y2="616.9" stroke="#000" stroke-width="2.4"/>
<text x="426" y="620.8" font-size="11" text-anchor="end" font-weight="bold" fill="#000">-2</text>
<line x1="429.3" y1="669.2" x2="436.4" y2="669.2" stroke="#000" stroke-width="2.4"/>
<text x="426" y="673.1" font-size="11" text-anchor="end" font-weight="bold" fill="#000">-4</text>
<text transform="translate(398.4,661.1) rotate(-90)" font-size="11" font-weight="bold">Log<tspan font-size="8" dy="2.8">10</tspan><tspan dy="-2.8"> Fold Difference</tspan></text>
<text transform="translate(413.1,605.2) rotate(-90)" font-size="11" font-weight="bold" text-anchor="middle">(Change in CFUs)</text>
<line x1="439.5" y1="564.6" x2="671.5" y2="564.6" stroke="#000" stroke-width="1.6" stroke-dasharray="1.6 4.46"/>
<line x1="488.2" y1="695.5" x2="488.2" y2="702.4" stroke="#000" stroke-width="2.6"/>
<text x="488.2" y="714.4" font-size="11.2" text-anchor="middle" font-weight="bold" fill="#000">VEH</text>
<line x1="619.9" y1="695.5" x2="619.9" y2="702.4" stroke="#000" stroke-width="2.6"/>
<text x="619.9" y="712.6" font-size="11.2" text-anchor="middle" font-weight="bold" fill="#000">VAN</text>
<path d="M446.5 534.8V526.5H463.5V591.7" fill="none" stroke="#333" stroke-width="1.2" stroke-linejoin="miter" stroke-linecap="butt"/>
<polygon points="448.55,519.9 449.11,521.24 450.55,521.35 449.45,522.29 449.78,523.7 448.55,522.95 447.32,523.7 447.65,522.29 446.55,521.35 447.99,521.24" fill="#1a1a1a"/>
<polygon points="455.15,519.9 455.71,521.24 457.15,521.35 456.05,522.29 456.38,523.7 455.15,522.95 453.92,523.7 454.25,522.29 453.15,521.35 454.59,521.24" fill="#1a1a1a"/>
<polygon points="461.75,519.9 462.31,521.24 463.75,521.35 462.65,522.29 462.98,523.7 461.75,522.95 460.52,523.7 460.85,522.29 459.75,521.35 461.19,521.24" fill="#1a1a1a"/>
<path d="M479.5 537.4V526.5H496.5V592.6" fill="none" stroke="#333" stroke-width="1.2" stroke-linejoin="miter" stroke-linecap="butt"/>
<polygon points="481.4,519.9 481.96,521.24 483.4,521.35 482.3,522.29 482.63,523.7 481.4,522.95 480.17,523.7 480.5,522.29 479.4,521.35 480.84,521.24" fill="#1a1a1a"/>
<polygon points="488,519.9 488.56,521.24 490,521.35 488.9,522.29 489.23,523.7 488,522.95 486.77,523.7 487.1,522.29 486,521.35 487.44,521.24" fill="#1a1a1a"/>
<polygon points="494.6,519.9 495.16,521.24 496.6,521.35 495.5,522.29 495.83,523.7 494.6,522.95 493.37,523.7 493.7,522.29 492.6,521.35 494.04,521.24" fill="#1a1a1a"/>
<path d="M512.5 536.5V526.5H529.5V588.7" fill="none" stroke="#333" stroke-width="1.2" stroke-linejoin="miter" stroke-linecap="butt"/>
<polygon points="514.5,519.9 515.06,521.24 516.5,521.35 515.4,522.29 515.73,523.7 514.5,522.95 513.27,523.7 513.6,522.29 512.5,521.35 513.94,521.24" fill="#1a1a1a"/>
<polygon points="521.1,519.9 521.66,521.24 523.1,521.35 522,522.29 522.33,523.7 521.1,522.95 519.87,523.7 520.2,522.29 519.1,521.35 520.54,521.24" fill="#1a1a1a"/>
<polygon points="527.7,519.9 528.26,521.24 529.7,521.35 528.6,522.29 528.93,523.7 527.7,522.95 526.47,523.7 526.8,522.29 525.7,521.35 527.14,521.24" fill="#1a1a1a"/>
<path d="M579.5 611.9V526.5H595.5V576.8" fill="none" stroke="#333" stroke-width="1.2" stroke-linejoin="miter" stroke-linecap="butt"/>
<polygon points="580.55,519.9 581.11,521.24 582.55,521.35 581.45,522.29 581.78,523.7 580.55,522.95 579.32,523.7 579.65,522.29 578.55,521.35 579.99,521.24" fill="#1a1a1a"/>
<polygon points="587.15,519.9 587.71,521.24 589.15,521.35 588.05,522.29 588.38,523.7 587.15,522.95 585.92,523.7 586.25,522.29 585.15,521.35 586.59,521.24" fill="#1a1a1a"/>
<polygon points="593.75,519.9 594.31,521.24 595.75,521.35 594.65,522.29 594.98,523.7 593.75,522.95 592.52,523.7 592.85,522.29 591.75,521.35 593.19,521.24" fill="#1a1a1a"/>
<path d="M611.5 589.1V526.5H628.5V590.8" fill="none" stroke="#333" stroke-width="1.2" stroke-linejoin="miter" stroke-linecap="butt"/>
<text x="619.8" y="523.3" font-size="8.6" text-anchor="middle" font-weight="normal" fill="#333">ns</text>
<path d="M644.5 606.3V526.5H661.5V574.2" fill="none" stroke="#333" stroke-width="1.2" stroke-linejoin="miter" stroke-linecap="butt"/>
<polygon points="646.05,519.9 646.61,521.24 648.05,521.35 646.95,522.29 647.28,523.7 646.05,522.95 644.82,523.7 645.15,522.29 644.05,521.35 645.49,521.24" fill="#1a1a1a"/>
<polygon points="652.65,519.9 653.21,521.24 654.65,521.35 653.55,522.29 653.88,523.7 652.65,522.95 651.42,523.7 651.75,522.29 650.65,521.35 652.09,521.24" fill="#1a1a1a"/>
<polygon points="659.25,519.9 659.81,521.24 661.25,521.35 660.15,522.29 660.48,523.7 659.25,522.95 658.02,523.7 658.35,522.29 657.25,521.35 658.69,521.24" fill="#1a1a1a"/>
<line x1="446.6" y1="544.14" x2="446.6" y2="560.59" stroke="#000" stroke-width="2.3"/>
<line x1="443.8" y1="544.14" x2="449.4" y2="544.14" stroke="#000" stroke-width="2.6"/>
<line x1="443.8" y1="560.59" x2="449.4" y2="560.59" stroke="#000" stroke-width="2.6"/>
<line x1="463.3" y1="600.33" x2="463.3" y2="605.6" stroke="#000" stroke-width="2.3"/>
<line x1="460.5" y1="600.33" x2="466.1" y2="600.33" stroke="#000" stroke-width="2.6"/>
<line x1="460.5" y1="605.6" x2="466.1" y2="605.6" stroke="#000" stroke-width="2.6"/>
<line x1="480.2" y1="545.95" x2="480.2" y2="568.52" stroke="#48ecb4" stroke-width="2.3"/>
<line x1="477.4" y1="545.95" x2="483" y2="545.95" stroke="#48ecb4" stroke-width="2.6"/>
<line x1="477.4" y1="568.52" x2="483" y2="568.52" stroke="#48ecb4" stroke-width="2.6"/>
<line x1="496.2" y1="602.21" x2="496.2" y2="609.05" stroke="#48ecb4" stroke-width="2.3"/>
<line x1="493.4" y1="602.21" x2="499" y2="602.21" stroke="#48ecb4" stroke-width="2.6"/>
<line x1="493.4" y1="609.05" x2="499" y2="609.05" stroke="#48ecb4" stroke-width="2.6"/>
<line x1="512.8" y1="546.79" x2="512.8" y2="556.95" stroke="#008a10" stroke-width="2.3"/>
<line x1="510" y1="546.79" x2="515.6" y2="546.79" stroke="#008a10" stroke-width="2.6"/>
<line x1="510" y1="556.95" x2="515.6" y2="556.95" stroke="#008a10" stroke-width="2.6"/>
<line x1="529.5" y1="598.19" x2="529.5" y2="604.81" stroke="#008a10" stroke-width="2.3"/>
<line x1="526.7" y1="598.19" x2="532.3" y2="598.19" stroke="#008a10" stroke-width="2.6"/>
<line x1="526.7" y1="604.81" x2="532.3" y2="604.81" stroke="#008a10" stroke-width="2.6"/>
<line x1="579" y1="621.23" x2="579" y2="666.7" stroke="#000" stroke-width="2.3"/>
<line x1="576.2" y1="621.23" x2="581.8" y2="621.23" stroke="#000" stroke-width="2.6"/>
<line x1="576.2" y1="666.7" x2="581.8" y2="666.7" stroke="#000" stroke-width="2.6"/>
<line x1="595.3" y1="587.2" x2="595.3" y2="597.4" stroke="#000" stroke-width="2.3"/>
<line x1="592.5" y1="587.2" x2="598.1" y2="587.2" stroke="#000" stroke-width="2.6"/>
<line x1="592.5" y1="597.4" x2="598.1" y2="597.4" stroke="#000" stroke-width="2.6"/>
<line x1="611.6" y1="597.92" x2="611.6" y2="612.21" stroke="#48ecb4" stroke-width="2.3"/>
<line x1="608.8" y1="597.92" x2="614.4" y2="597.92" stroke="#48ecb4" stroke-width="2.6"/>
<line x1="608.8" y1="612.21" x2="614.4" y2="612.21" stroke="#48ecb4" stroke-width="2.6"/>
<line x1="628.2" y1="600.79" x2="628.2" y2="621.81" stroke="#48ecb4" stroke-width="2.3"/>
<line x1="625.4" y1="600.79" x2="631" y2="600.79" stroke="#48ecb4" stroke-width="2.6"/>
<line x1="625.4" y1="621.81" x2="631" y2="621.81" stroke="#48ecb4" stroke-width="2.6"/>
<line x1="644.7" y1="615.8" x2="644.7" y2="662.86" stroke="#008a10" stroke-width="2.3"/>
<line x1="641.9" y1="615.8" x2="647.5" y2="615.8" stroke="#008a10" stroke-width="2.6"/>
<line x1="641.9" y1="662.86" x2="647.5" y2="662.86" stroke="#008a10" stroke-width="2.6"/>
<line x1="660.5" y1="583.58" x2="660.5" y2="592.88" stroke="#008a10" stroke-width="2.3"/>
<line x1="657.7" y1="583.58" x2="663.3" y2="583.58" stroke="#008a10" stroke-width="2.6"/>
<line x1="657.7" y1="592.88" x2="663.3" y2="592.88" stroke="#008a10" stroke-width="2.6"/>
<line x1="441.1" y1="552.37" x2="452.1" y2="552.37" stroke="#000" stroke-width="2"/>
<line x1="457.8" y1="602.97" x2="468.8" y2="602.97" stroke="#000" stroke-width="2"/>
<line x1="474.7" y1="557.23" x2="485.7" y2="557.23" stroke="#000" stroke-width="2"/>
<line x1="490.7" y1="605.63" x2="501.7" y2="605.63" stroke="#000" stroke-width="2"/>
<line x1="507.3" y1="551.87" x2="518.3" y2="551.87" stroke="#000" stroke-width="2"/>
<line x1="524" y1="601.5" x2="535" y2="601.5" stroke="#000" stroke-width="2"/>
<line x1="573.5" y1="643.97" x2="584.5" y2="643.97" stroke="#000" stroke-width="2"/>
<line x1="589.8" y1="592.3" x2="600.8" y2="592.3" stroke="#000" stroke-width="2"/>
<line x1="606.1" y1="605.07" x2="617.1" y2="605.07" stroke="#000" stroke-width="2"/>
<line x1="622.7" y1="611.3" x2="633.7" y2="611.3" stroke="#000" stroke-width="2"/>
<line x1="639.2" y1="639.33" x2="650.2" y2="639.33" stroke="#000" stroke-width="2"/>
<line x1="655" y1="588.23" x2="666" y2="588.23" stroke="#000" stroke-width="2"/>
<circle cx="445.3" cy="545.3" r="4.5" fill="#000" stroke="none" stroke-width="0"/>
<circle cx="449" cy="550.4" r="4.5" fill="#000" stroke="none" stroke-width="0"/>
<circle cx="447" cy="561.4" r="4.5" fill="#000" stroke="none" stroke-width="0"/>
<circle cx="462.8" cy="600.8" r="3.6" fill="#fff" stroke="#000" stroke-width="1.9"/>
<circle cx="465" cy="602.2" r="3.6" fill="#fff" stroke="#000" stroke-width="1.9"/>
<circle cx="461.4" cy="605.9" r="3.6" fill="#fff" stroke="#000" stroke-width="1.9"/>
<circle cx="479.6" cy="549" r="4.5" fill="#48ecb4" stroke="none" stroke-width="0"/>
<circle cx="482.5" cy="552.6" r="4.5" fill="#48ecb4" stroke="none" stroke-width="0"/>
<circle cx="480.3" cy="570.1" r="4.5" fill="#48ecb4" stroke="none" stroke-width="0"/>
<circle cx="497.1" cy="603" r="3.6" fill="#fff" stroke="#48ecb4" stroke-width="1.9"/>
<circle cx="496.4" cy="604.4" r="3.6" fill="#fff" stroke="#48ecb4" stroke-width="1.9"/>
<circle cx="494.9" cy="609.5" r="3.6" fill="#fff" stroke="#48ecb4" stroke-width="1.9"/>
<circle cx="512.7" cy="546" r="3.55" fill="#136b4f" stroke="#008a10" stroke-width="1.9"/>
<circle cx="511" cy="554.8" r="3.55" fill="#136b4f" stroke="#008a10" stroke-width="1.9"/>
<circle cx="514.6" cy="554.8" r="3.55" fill="#136b4f" stroke="#008a10" stroke-width="1.9"/>
<circle cx="529.2" cy="597.9" r="3.6" fill="#fff" stroke="#008a10" stroke-width="1.9"/>
<circle cx="531.4" cy="602.2" r="3.6" fill="#fff" stroke="#008a10" stroke-width="1.9"/>
<circle cx="527.8" cy="604.4" r="3.6" fill="#fff" stroke="#008a10" stroke-width="1.9"/>
<circle cx="579" cy="630" r="4.5" fill="#000" stroke="none" stroke-width="0"/>
<circle cx="580" cy="631.7" r="4.5" fill="#000" stroke="none" stroke-width="0"/>
<circle cx="579" cy="670.2" r="4.5" fill="#000" stroke="none" stroke-width="0"/>
<circle cx="595.3" cy="586.5" r="3.6" fill="#fff" stroke="#000" stroke-width="1.9"/>
<circle cx="597" cy="594.3" r="3.6" fill="#fff" stroke="#000" stroke-width="1.9"/>
<circle cx="593.9" cy="596.1" r="3.6" fill="#fff" stroke="#000" stroke-width="1.9"/>
<circle cx="611.4" cy="600.5" r="4.5" fill="#48ecb4" stroke="none" stroke-width="0"/>
<circle cx="613.7" cy="601.4" r="4.5" fill="#48ecb4" stroke="none" stroke-width="0"/>
<circle cx="611.4" cy="613.3" r="4.5" fill="#48ecb4" stroke="none" stroke-width="0"/>
<circle cx="628.2" cy="600.5" r="3.6" fill="#fff" stroke="#48ecb4" stroke-width="1.9"/>
<circle cx="628.2" cy="611.9" r="3.6" fill="#fff" stroke="#48ecb4" stroke-width="1.9"/>
<circle cx="628.2" cy="621.5" r="3.6" fill="#fff" stroke="#48ecb4" stroke-width="1.9"/>
<circle cx="643.5" cy="622.4" r="3.55" fill="#136b4f" stroke="#008a10" stroke-width="1.9"/>
<circle cx="647.3" cy="629.4" r="3.55" fill="#136b4f" stroke="#008a10" stroke-width="1.9"/>
<circle cx="644.7" cy="666.2" r="3.55" fill="#136b4f" stroke="#008a10" stroke-width="1.9"/>
<circle cx="659.2" cy="584.7" r="3.6" fill="#fff" stroke="#008a10" stroke-width="1.9"/>
<circle cx="663.6" cy="586.5" r="3.6" fill="#fff" stroke="#008a10" stroke-width="1.9"/>
<circle cx="659.8" cy="593.5" r="3.6" fill="#fff" stroke="#008a10" stroke-width="1.9"/>
<circle cx="450.4" cy="726" r="4.7" fill="#000" stroke="none" stroke-width="0"/>
<circle cx="450.4" cy="741.4" r="4.7" fill="#48ecb4" stroke="none" stroke-width="0"/>
<circle cx="450.4" cy="759.2" r="3.8" fill="#136b4f" stroke="#008a10" stroke-width="1.9"/>
<text x="468.1" y="731.1" font-size="11" text-anchor="start" font-weight="bold" fill="#000">JE2</text>
<text x="468.1" y="746.3" font-size="11" font-weight="bold"><tspan font-style="italic">relA</tspan>::Tn</text>
<text x="468.1" y="763.8" font-size="11" font-weight="bold"><tspan font-style="italic">relA</tspan>::Tn + <tspan font-style="italic">attC</tspan>::P<tspan font-size="8.6" dy="3.6">relA</tspan><tspan dy="-3.6">-</tspan><tspan font-style="italic">relA</tspan></text>
<circle cx="614.4" cy="740.2" r="3.6" fill="#fff" stroke="#000" stroke-width="1.7"/>
<text x="624.8" y="743.8" font-size="11" text-anchor="start" font-weight="bold" fill="#000">CDM-R</text>
</svg>
</body></html>
